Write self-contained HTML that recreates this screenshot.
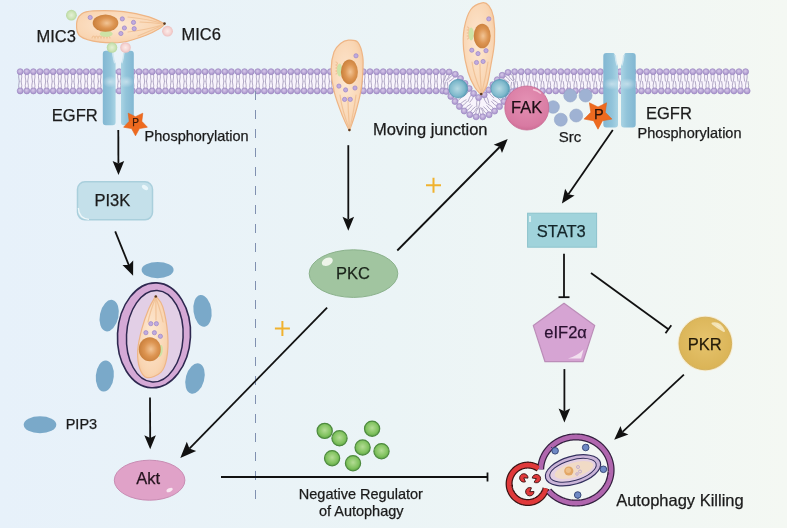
<!DOCTYPE html><html><head><meta charset="utf-8"><style>html,body{margin:0;padding:0;overflow:hidden;background:#e9f3f7}svg{display:block;will-change:transform}text{font-family:"Liberation Sans",sans-serif}</style></head><body><svg width="787" height="528" viewBox="0 0 787 528" font-family="Liberation Sans, sans-serif">
<defs>
<linearGradient id="bg" x1="0" y1="0" x2="1" y2="0">
 <stop offset="0" stop-color="#e7f1fa"/><stop offset="0.5" stop-color="#ebf4f6"/><stop offset="1" stop-color="#f4f8f3"/>
</linearGradient>
<radialGradient id="nuc" cx="0.55" cy="0.5" r="0.6">
 <stop offset="0" stop-color="#f2c596"/><stop offset="0.5" stop-color="#dd9552"/><stop offset="1" stop-color="#c47a36"/>
</radialGradient>
<radialGradient id="body" cx="0.45" cy="0.45" r="0.7">
 <stop offset="0" stop-color="#fde8d3"/><stop offset="0.7" stop-color="#f9d5b2"/><stop offset="1" stop-color="#f3c193"/>
</radialGradient>
<radialGradient id="egfr" cx="0.5" cy="0.5" r="0.6">
 <stop offset="0" stop-color="#a9cde0"/><stop offset="1" stop-color="#7fb1cc"/>
</radialGradient>
<linearGradient id="egfrh" x1="0" y1="0" x2="1" y2="0">
 <stop offset="0" stop-color="#82b7d2"/><stop offset="0.6" stop-color="#92c4da"/><stop offset="1" stop-color="#aad4e4"/>
</linearGradient>
<linearGradient id="egfrh2" x1="1" y1="0" x2="0" y2="0">
 <stop offset="0" stop-color="#82b7d2"/><stop offset="0.6" stop-color="#92c4da"/><stop offset="1" stop-color="#aad4e4"/>
</linearGradient>
<radialGradient id="pinch" cx="0.5" cy="0.5" r="0.5">
 <stop offset="0" stop-color="#ffffff" stop-opacity="0.45"/><stop offset="1" stop-color="#ffffff" stop-opacity="0"/>
</radialGradient>
<radialGradient id="teal" cx="0.45" cy="0.5" r="0.6">
 <stop offset="0" stop-color="#b6d9e3"/><stop offset="0.65" stop-color="#7fb9cc"/><stop offset="1" stop-color="#4a93ae"/>
</radialGradient>
<radialGradient id="fak" cx="0.5" cy="0.35" r="0.7">
 <stop offset="0" stop-color="#e491b4"/><stop offset="0.8" stop-color="#d87aa2"/><stop offset="1" stop-color="#c9668f"/>
</radialGradient>
<radialGradient id="gball" cx="0.5" cy="0.45" r="0.55">
 <stop offset="0" stop-color="#b4dc95"/><stop offset="0.7" stop-color="#80c25e"/><stop offset="1" stop-color="#5ea446"/>
</radialGradient>
<radialGradient id="pkr" cx="0.5" cy="0.45" r="0.6">
 <stop offset="0" stop-color="#e6c46e"/><stop offset="1" stop-color="#d9b254"/>
</radialGradient>
<radialGradient id="mic3" cx="0.5" cy="0.5" r="0.5">
 <stop offset="0" stop-color="#e4f1d6"/><stop offset="0.6" stop-color="#cfe5b9"/><stop offset="1" stop-color="#b8d9a0"/>
</radialGradient>
<radialGradient id="mic6" cx="0.5" cy="0.5" r="0.5">
 <stop offset="0" stop-color="#fcecea"/><stop offset="0.6" stop-color="#f6d6d4"/><stop offset="1" stop-color="#edc0bf"/>
</radialGradient>
<radialGradient id="head" cx="0.45" cy="0.4" r="0.6">
 <stop offset="0" stop-color="#d6cae8"/><stop offset="0.55" stop-color="#bca9d8"/><stop offset="1" stop-color="#a690cb"/>
</radialGradient>
</defs><rect x="0" y="0" width="787" height="528" fill="url(#bg)"/><polygon points="20.2,73.8 21.2,73.8 22.2,73.8 23.2,73.8 24.2,73.8 25.2,73.8 26.2,73.8 27.2,73.8 28.2,73.8 29.2,73.8 30.2,73.8 31.2,73.8 32.2,73.8 33.2,73.8 34.2,73.8 35.2,73.8 36.2,73.8 37.2,73.8 38.2,73.8 39.2,73.8 40.2,73.8 41.2,73.8 42.2,73.8 43.2,73.8 44.2,73.8 45.2,73.8 46.2,73.8 47.2,73.8 48.2,73.8 49.2,73.8 50.2,73.8 51.2,73.8 52.2,73.8 53.2,73.8 54.2,73.8 55.2,73.8 56.2,73.8 57.2,73.8 58.2,73.8 59.2,73.8 60.2,73.8 61.2,73.8 62.2,73.8 63.2,73.8 64.2,73.8 65.2,73.8 66.2,73.8 67.2,73.8 68.2,73.8 69.2,73.8 70.2,73.8 71.2,73.8 72.2,73.8 73.2,73.8 74.2,73.8 75.2,73.8 76.2,73.8 77.2,73.8 78.2,73.8 79.2,73.8 80.2,73.8 81.2,73.8 82.2,73.8 83.2,73.8 84.2,73.8 85.2,73.8 86.2,73.8 87.2,73.8 88.2,73.8 89.2,73.8 90.2,73.8 91.2,73.8 92.2,73.8 93.2,73.8 94.2,73.8 95.2,73.8 96.2,73.8 97.2,73.8 98.2,73.8 99.2,73.8 100.2,73.8 101.2,73.8 102.2,73.8 103.2,73.8 104.2,73.8 105.2,73.8 106.2,73.8 107.2,73.8 108.2,73.8 109.2,73.8 110.2,73.8 111.2,73.8 112.2,73.8 113.2,73.8 114.2,73.8 115.2,73.8 116.2,73.8 117.2,73.8 118.2,73.8 119.2,73.8 120.2,73.8 121.2,73.8 122.2,73.8 123.2,73.8 124.2,73.8 125.2,73.8 126.2,73.8 127.2,73.8 128.2,73.8 129.2,73.8 130.2,73.8 131.2,73.8 132.2,73.8 133.2,73.8 134.2,73.8 135.2,73.8 136.2,73.8 137.2,73.8 138.2,73.8 139.2,73.8 140.2,73.8 141.2,73.8 142.2,73.8 143.2,73.8 144.2,73.8 145.2,73.8 146.2,73.8 147.2,73.8 148.2,73.8 149.2,73.8 150.2,73.8 151.2,73.8 152.2,73.8 153.2,73.8 154.2,73.8 155.2,73.8 156.2,73.8 157.2,73.8 158.2,73.8 159.2,73.8 160.2,73.8 161.2,73.8 162.2,73.8 163.2,73.8 164.2,73.8 165.2,73.8 166.2,73.8 167.2,73.8 168.2,73.8 169.2,73.8 170.2,73.8 171.2,73.8 172.2,73.8 173.2,73.8 174.2,73.8 175.2,73.8 176.2,73.8 177.2,73.8 178.2,73.8 179.2,73.8 180.2,73.8 181.2,73.8 182.2,73.8 183.2,73.8 184.2,73.8 185.2,73.8 186.2,73.8 187.2,73.8 188.2,73.8 189.2,73.8 190.2,73.8 191.2,73.8 192.2,73.8 193.2,73.8 194.2,73.8 195.2,73.8 196.2,73.8 197.2,73.8 198.2,73.8 199.2,73.8 200.2,73.8 201.2,73.8 202.2,73.8 203.2,73.8 204.2,73.8 205.2,73.8 206.2,73.8 207.2,73.8 208.2,73.8 209.2,73.8 210.2,73.8 211.2,73.8 212.2,73.8 213.2,73.8 214.2,73.8 215.2,73.8 216.2,73.8 217.2,73.8 218.2,73.8 219.2,73.8 220.2,73.8 221.2,73.8 222.2,73.8 223.2,73.8 224.2,73.8 225.2,73.8 226.2,73.8 227.2,73.8 228.2,73.8 229.2,73.8 230.2,73.8 231.2,73.8 232.2,73.8 233.2,73.8 234.2,73.8 235.2,73.8 236.2,73.8 237.2,73.8 238.2,73.8 239.2,73.8 240.2,73.8 241.2,73.8 242.2,73.8 243.2,73.8 244.2,73.8 245.2,73.8 246.2,73.8 247.2,73.8 248.2,73.8 249.2,73.8 250.2,73.8 251.2,73.8 252.2,73.8 253.2,73.8 254.2,73.8 255.2,73.8 256.2,73.8 257.2,73.8 258.2,73.8 259.2,73.8 260.2,73.8 261.2,73.8 262.2,73.8 263.2,73.8 264.2,73.8 265.2,73.8 266.2,73.8 267.2,73.8 268.2,73.8 269.2,73.8 270.2,73.8 271.2,73.8 272.2,73.8 273.2,73.8 274.2,73.8 275.2,73.8 276.2,73.8 277.2,73.8 278.2,73.8 279.2,73.8 280.2,73.8 281.2,73.8 282.2,73.8 283.2,73.8 284.2,73.8 285.2,73.8 286.2,73.8 287.2,73.8 288.2,73.8 289.2,73.8 290.2,73.8 291.2,73.8 292.2,73.8 293.2,73.8 294.2,73.8 295.2,73.8 296.2,73.8 297.2,73.8 298.2,73.8 299.2,73.8 300.2,73.8 301.2,73.8 302.2,73.8 303.2,73.8 304.2,73.8 305.2,73.8 306.2,73.8 307.2,73.8 308.2,73.8 309.2,73.8 310.2,73.8 311.2,73.8 312.2,73.8 313.2,73.8 314.2,73.8 315.2,73.8 316.2,73.8 317.2,73.8 318.2,73.8 319.2,73.8 320.2,73.8 321.2,73.8 322.2,73.8 323.2,73.8 324.2,73.8 325.2,73.8 326.2,73.8 327.2,73.8 328.2,73.8 329.2,73.8 330.2,73.8 331.2,73.8 332.2,73.8 333.2,73.8 334.2,73.8 335.2,73.8 336.2,73.8 337.2,73.8 338.2,73.8 339.2,73.8 340.2,73.8 341.2,73.8 342.2,73.8 343.2,73.8 344.2,73.8 345.2,73.8 346.2,73.8 347.2,73.8 348.2,73.8 349.2,73.8 350.2,73.8 351.2,73.8 352.2,73.8 353.2,73.8 354.2,73.8 355.2,73.8 356.2,73.8 357.2,73.8 358.2,73.8 359.2,73.8 360.2,73.8 361.2,73.8 362.2,73.8 363.2,73.8 364.2,73.8 365.2,73.8 366.2,73.8 367.2,73.8 368.2,73.8 369.2,73.8 370.2,73.8 371.2,73.8 372.2,73.8 373.2,73.8 374.2,73.8 375.2,73.8 376.2,73.8 377.2,73.8 378.2,73.8 379.2,73.8 380.2,73.8 381.2,73.8 382.2,73.8 383.2,73.8 384.2,73.8 385.2,73.8 386.2,73.8 387.2,73.8 388.2,73.8 389.2,73.8 390.2,73.8 391.2,73.8 392.2,73.8 393.2,73.8 394.2,73.8 395.2,73.8 396.2,73.8 397.2,73.8 398.2,73.8 399.2,73.8 400.2,73.8 401.2,73.8 402.2,73.8 403.2,73.8 404.2,73.8 405.2,73.8 406.2,73.8 407.2,73.8 408.2,73.8 409.2,73.8 410.2,73.8 411.2,73.8 412.2,73.8 413.2,73.8 414.2,73.8 415.2,73.8 416.2,73.8 417.2,73.8 418.2,73.8 419.2,73.8 420.2,73.8 421.2,73.8 422.2,73.8 423.2,73.8 424.2,73.8 425.2,73.8 426.2,73.8 427.2,73.8 428.2,73.8 429.2,73.8 430.2,73.8 431.2,73.8 432.2,73.8 433.2,73.8 434.2,73.8 435.2,73.8 436.2,73.8 437.2,73.8 438.2,73.8 439.2,73.8 440.2,73.8 441.2,73.8 442.2,73.8 443.2,73.8 444.2,73.8 445.2,73.8 446.2,73.8 448.2,73.9 450.4,74.4 452.3,75.1 454.0,76.0 455.6,77.0 457.0,78.1 458.3,79.3 459.5,80.5 460.7,81.7 461.8,82.9 462.9,84.2 464.0,85.4 465.0,86.7 466.0,87.9 467.0,89.1 468.0,90.3 468.9,91.4 469.9,92.5 470.8,93.6 471.7,94.6 472.6,95.5 473.4,96.3 474.2,97.1 475.0,97.7 475.7,98.3 476.4,98.8 477.0,99.1 477.5,99.4 478.0,99.7 478.4,99.8 478.8,99.9 479.1,100.0 479.4,100.0 479.7,100.0 480.0,100.0 480.3,99.9 480.7,99.8 481.2,99.6 481.7,99.3 482.3,99.0 482.9,98.6 483.6,98.1 484.3,97.5 485.1,96.8 485.9,96.0 486.8,95.1 487.7,94.2 488.6,93.2 489.5,92.1 490.4,91.0 491.4,89.8 492.4,88.6 493.4,87.4 494.4,86.2 495.5,84.9 496.5,83.7 497.6,82.4 498.8,81.2 500.0,80.0 501.2,78.8 502.6,77.7 504.0,76.6 505.6,75.7 507.4,74.8 509.5,74.2 511.8,73.8 513.2,73.8 514.2,73.8 515.2,73.8 516.2,73.8 517.2,73.8 518.2,73.8 519.2,73.8 520.2,73.8 521.2,73.8 522.2,73.8 523.2,73.8 524.2,73.8 525.2,73.8 526.2,73.8 527.2,73.8 528.2,73.8 529.2,73.8 530.2,73.8 531.2,73.8 532.2,73.8 533.2,73.8 534.2,73.8 535.2,73.8 536.2,73.8 537.2,73.8 538.2,73.8 539.2,73.8 540.2,73.8 541.2,73.8 542.2,73.8 543.2,73.8 544.2,73.8 545.2,73.8 546.2,73.8 547.2,73.8 548.2,73.8 549.2,73.8 550.2,73.8 551.2,73.8 552.2,73.8 553.2,73.8 554.2,73.8 555.2,73.8 556.2,73.8 557.2,73.8 558.2,73.8 559.2,73.8 560.2,73.8 561.2,73.8 562.2,73.8 563.2,73.8 564.2,73.8 565.2,73.8 566.2,73.8 567.2,73.8 568.2,73.8 569.2,73.8 570.2,73.8 571.2,73.8 572.2,73.8 573.2,73.8 574.2,73.8 575.2,73.8 576.2,73.8 577.2,73.8 578.2,73.8 579.2,73.8 580.2,73.8 581.2,73.8 582.2,73.8 583.2,73.8 584.2,73.8 585.2,73.8 586.2,73.8 587.2,73.8 588.2,73.8 589.2,73.8 590.2,73.8 591.2,73.8 592.2,73.8 593.2,73.8 594.2,73.8 595.2,73.8 596.2,73.8 597.2,73.8 598.2,73.8 599.2,73.8 600.2,73.8 601.2,73.8 602.2,73.8 603.2,73.8 604.2,73.8 605.2,73.8 606.2,73.8 607.2,73.8 608.2,73.8 609.2,73.8 610.2,73.8 611.2,73.8 612.2,73.8 613.2,73.8 614.2,73.8 615.2,73.8 616.2,73.8 617.2,73.8 618.2,73.8 619.2,73.8 620.2,73.8 621.2,73.8 622.2,73.8 623.2,73.8 624.2,73.8 625.2,73.8 626.2,73.8 627.2,73.8 628.2,73.8 629.2,73.8 630.2,73.8 631.2,73.8 632.2,73.8 633.2,73.8 634.2,73.8 635.2,73.8 636.2,73.8 637.2,73.8 638.2,73.8 639.2,73.8 640.2,73.8 641.2,73.8 642.2,73.8 643.2,73.8 644.2,73.8 645.2,73.8 646.2,73.8 647.2,73.8 648.2,73.8 649.2,73.8 650.2,73.8 651.2,73.8 652.2,73.8 653.2,73.8 654.2,73.8 655.2,73.8 656.2,73.8 657.2,73.8 658.2,73.8 659.2,73.8 660.2,73.8 661.2,73.8 662.2,73.8 663.2,73.8 664.2,73.8 665.2,73.8 666.2,73.8 667.2,73.8 668.2,73.8 669.2,73.8 670.2,73.8 671.2,73.8 672.2,73.8 673.2,73.8 674.2,73.8 675.2,73.8 676.2,73.8 677.2,73.8 678.2,73.8 679.2,73.8 680.2,73.8 681.2,73.8 682.2,73.8 683.2,73.8 684.2,73.8 685.2,73.8 686.2,73.8 687.2,73.8 688.2,73.8 689.2,73.8 690.2,73.8 691.2,73.8 692.2,73.8 693.2,73.8 694.2,73.8 695.2,73.8 696.2,73.8 697.2,73.8 698.2,73.8 699.2,73.8 700.2,73.8 701.2,73.8 702.2,73.8 703.2,73.8 704.2,73.8 705.2,73.8 706.2,73.8 707.2,73.8 708.2,73.8 709.2,73.8 710.2,73.8 711.2,73.8 712.2,73.8 713.2,73.8 714.2,73.8 715.2,73.8 716.2,73.8 717.2,73.8 718.2,73.8 719.2,73.8 720.2,73.8 721.2,73.8 722.2,73.8 723.2,73.8 724.2,73.8 725.2,73.8 726.2,73.8 727.2,73.8 728.2,73.8 729.2,73.8 730.2,73.8 731.2,73.8 732.2,73.8 733.2,73.8 734.2,73.8 735.2,73.8 736.2,73.8 737.2,73.8 738.2,73.8 739.2,73.8 740.2,73.8 741.2,73.8 742.2,73.8 743.2,73.8 744.2,73.8 745.2,73.8 746.2,73.8 747.2,73.8 747.2,88.8 746.2,88.8 745.2,88.8 744.2,88.8 743.2,88.8 742.2,88.8 741.2,88.8 740.2,88.8 739.2,88.8 738.2,88.8 737.2,88.8 736.2,88.8 735.2,88.8 734.2,88.8 733.2,88.8 732.2,88.8 731.2,88.8 730.2,88.8 729.2,88.8 728.2,88.8 727.2,88.8 726.2,88.8 725.2,88.8 724.2,88.8 723.2,88.8 722.2,88.8 721.2,88.8 720.2,88.8 719.2,88.8 718.2,88.8 717.2,88.8 716.2,88.8 715.2,88.8 714.2,88.8 713.2,88.8 712.2,88.8 711.2,88.8 710.2,88.8 709.2,88.8 708.2,88.8 707.2,88.8 706.2,88.8 705.2,88.8 704.2,88.8 703.2,88.8 702.2,88.8 701.2,88.8 700.2,88.8 699.2,88.8 698.2,88.8 697.2,88.8 696.2,88.8 695.2,88.8 694.2,88.8 693.2,88.8 692.2,88.8 691.2,88.8 690.2,88.8 689.2,88.8 688.2,88.8 687.2,88.8 686.2,88.8 685.2,88.8 684.2,88.8 683.2,88.8 682.2,88.8 681.2,88.8 680.2,88.8 679.2,88.8 678.2,88.8 677.2,88.8 676.2,88.8 675.2,88.8 674.2,88.8 673.2,88.8 672.2,88.8 671.2,88.8 670.2,88.8 669.2,88.8 668.2,88.8 667.2,88.8 666.2,88.8 665.2,88.8 664.2,88.8 663.2,88.8 662.2,88.8 661.2,88.8 660.2,88.8 659.2,88.8 658.2,88.8 657.2,88.8 656.2,88.8 655.2,88.8 654.2,88.8 653.2,88.8 652.2,88.8 651.2,88.8 650.2,88.8 649.2,88.8 648.2,88.8 647.2,88.8 646.2,88.8 645.2,88.8 644.2,88.8 643.2,88.8 642.2,88.8 641.2,88.8 640.2,88.8 639.2,88.8 638.2,88.8 637.2,88.8 636.2,88.8 635.2,88.8 634.2,88.8 633.2,88.8 632.2,88.8 631.2,88.8 630.2,88.8 629.2,88.8 628.2,88.8 627.2,88.8 626.2,88.8 625.2,88.8 624.2,88.8 623.2,88.8 622.2,88.8 621.2,88.8 620.2,88.8 619.2,88.8 618.2,88.8 617.2,88.8 616.2,88.8 615.2,88.8 614.2,88.8 613.2,88.8 612.2,88.8 611.2,88.8 610.2,88.8 609.2,88.8 608.2,88.8 607.2,88.8 606.2,88.8 605.2,88.8 604.2,88.8 603.2,88.8 602.2,88.8 601.2,88.8 600.2,88.8 599.2,88.8 598.2,88.8 597.2,88.8 596.2,88.8 595.2,88.8 594.2,88.8 593.2,88.8 592.2,88.8 591.2,88.8 590.2,88.8 589.2,88.8 588.2,88.8 587.2,88.8 586.2,88.8 585.2,88.8 584.2,88.8 583.2,88.8 582.2,88.8 581.2,88.8 580.2,88.8 579.2,88.8 578.2,88.8 577.2,88.8 576.2,88.8 575.2,88.8 574.2,88.8 573.2,88.8 572.2,88.8 571.2,88.8 570.2,88.8 569.2,88.8 568.2,88.8 567.2,88.8 566.2,88.8 565.2,88.8 564.2,88.8 563.2,88.8 562.2,88.8 561.2,88.8 560.2,88.8 559.2,88.8 558.2,88.8 557.2,88.8 556.2,88.8 555.2,88.8 554.2,88.8 553.2,88.8 552.2,88.8 551.2,88.8 550.2,88.8 549.2,88.8 548.2,88.8 547.2,88.8 546.2,88.8 545.2,88.8 544.2,88.8 543.2,88.8 542.2,88.8 541.2,88.8 540.2,88.8 539.2,88.8 538.2,88.8 537.2,88.8 536.2,88.8 535.2,88.8 534.2,88.8 533.2,88.8 532.2,88.8 531.2,88.8 530.2,88.8 529.2,88.8 528.2,88.8 527.2,88.8 526.2,88.8 525.2,88.8 524.2,88.8 523.2,88.8 522.2,88.8 521.2,88.8 520.2,88.8 519.2,88.8 518.2,88.8 517.2,88.8 516.2,88.8 515.2,88.8 514.2,88.8 513.2,88.8 512.6,88.8 512.9,88.8 513.0,88.7 512.8,88.8 512.4,89.1 511.8,89.5 511.2,90.0 510.4,90.7 509.6,91.6 508.8,92.5 507.9,93.5 506.9,94.6 506.0,95.7 505.0,96.9 504.0,98.1 503.0,99.4 502.0,100.6 500.9,101.9 499.8,103.1 498.7,104.3 497.6,105.5 496.5,106.7 495.3,107.8 494.1,108.9 492.8,109.9 491.5,110.9 490.1,111.8 488.7,112.6 487.2,113.3 485.7,113.9 484.1,114.4 482.4,114.8 480.7,115.0 479.0,115.0 477.3,114.9 475.6,114.6 474.0,114.1 472.4,113.6 470.9,112.9 469.4,112.1 468.0,111.2 466.7,110.3 465.4,109.3 464.2,108.2 463.0,107.1 461.8,106.0 460.7,104.8 459.6,103.6 458.5,102.4 457.5,101.1 456.4,99.9 455.4,98.6 454.4,97.4 453.4,96.2 452.4,95.0 451.5,93.9 450.6,92.9 449.7,91.9 448.9,91.0 448.1,90.3 447.4,89.7 446.8,89.2 446.4,88.9 446.1,88.8 446.0,88.7 446.2,88.8 446.2,88.8 445.2,88.8 444.2,88.8 443.2,88.8 442.2,88.8 441.2,88.8 440.2,88.8 439.2,88.8 438.2,88.8 437.2,88.8 436.2,88.8 435.2,88.8 434.2,88.8 433.2,88.8 432.2,88.8 431.2,88.8 430.2,88.8 429.2,88.8 428.2,88.8 427.2,88.8 426.2,88.8 425.2,88.8 424.2,88.8 423.2,88.8 422.2,88.8 421.2,88.8 420.2,88.8 419.2,88.8 418.2,88.8 417.2,88.8 416.2,88.8 415.2,88.8 414.2,88.8 413.2,88.8 412.2,88.8 411.2,88.8 410.2,88.8 409.2,88.8 408.2,88.8 407.2,88.8 406.2,88.8 405.2,88.8 404.2,88.8 403.2,88.8 402.2,88.8 401.2,88.8 400.2,88.8 399.2,88.8 398.2,88.8 397.2,88.8 396.2,88.8 395.2,88.8 394.2,88.8 393.2,88.8 392.2,88.8 391.2,88.8 390.2,88.8 389.2,88.8 388.2,88.8 387.2,88.8 386.2,88.8 385.2,88.8 384.2,88.8 383.2,88.8 382.2,88.8 381.2,88.8 380.2,88.8 379.2,88.8 378.2,88.8 377.2,88.8 376.2,88.8 375.2,88.8 374.2,88.8 373.2,88.8 372.2,88.8 371.2,88.8 370.2,88.8 369.2,88.8 368.2,88.8 367.2,88.8 366.2,88.8 365.2,88.8 364.2,88.8 363.2,88.8 362.2,88.8 361.2,88.8 360.2,88.8 359.2,88.8 358.2,88.8 357.2,88.8 356.2,88.8 355.2,88.8 354.2,88.8 353.2,88.8 352.2,88.8 351.2,88.8 350.2,88.8 349.2,88.8 348.2,88.8 347.2,88.8 346.2,88.8 345.2,88.8 344.2,88.8 343.2,88.8 342.2,88.8 341.2,88.8 340.2,88.8 339.2,88.8 338.2,88.8 337.2,88.8 336.2,88.8 335.2,88.8 334.2,88.8 333.2,88.8 332.2,88.8 331.2,88.8 330.2,88.8 329.2,88.8 328.2,88.8 327.2,88.8 326.2,88.8 325.2,88.8 324.2,88.8 323.2,88.8 322.2,88.8 321.2,88.8 320.2,88.8 319.2,88.8 318.2,88.8 317.2,88.8 316.2,88.8 315.2,88.8 314.2,88.8 313.2,88.8 312.2,88.8 311.2,88.8 310.2,88.8 309.2,88.8 308.2,88.8 307.2,88.8 306.2,88.8 305.2,88.8 304.2,88.8 303.2,88.8 302.2,88.8 301.2,88.8 300.2,88.8 299.2,88.8 298.2,88.8 297.2,88.8 296.2,88.8 295.2,88.8 294.2,88.8 293.2,88.8 292.2,88.8 291.2,88.8 290.2,88.8 289.2,88.8 288.2,88.8 287.2,88.8 286.2,88.8 285.2,88.8 284.2,88.8 283.2,88.8 282.2,88.8 281.2,88.8 280.2,88.8 279.2,88.8 278.2,88.8 277.2,88.8 276.2,88.8 275.2,88.8 274.2,88.8 273.2,88.8 272.2,88.8 271.2,88.8 270.2,88.8 269.2,88.8 268.2,88.8 267.2,88.8 266.2,88.8 265.2,88.8 264.2,88.8 263.2,88.8 262.2,88.8 261.2,88.8 260.2,88.8 259.2,88.8 258.2,88.8 257.2,88.8 256.2,88.8 255.2,88.8 254.2,88.8 253.2,88.8 252.2,88.8 251.2,88.8 250.2,88.8 249.2,88.8 248.2,88.8 247.2,88.8 246.2,88.8 245.2,88.8 244.2,88.8 243.2,88.8 242.2,88.8 241.2,88.8 240.2,88.8 239.2,88.8 238.2,88.8 237.2,88.8 236.2,88.8 235.2,88.8 234.2,88.8 233.2,88.8 232.2,88.8 231.2,88.8 230.2,88.8 229.2,88.8 228.2,88.8 227.2,88.8 226.2,88.8 225.2,88.8 224.2,88.8 223.2,88.8 222.2,88.8 221.2,88.8 220.2,88.8 219.2,88.8 218.2,88.8 217.2,88.8 216.2,88.8 215.2,88.8 214.2,88.8 213.2,88.8 212.2,88.8 211.2,88.8 210.2,88.8 209.2,88.8 208.2,88.8 207.2,88.8 206.2,88.8 205.2,88.8 204.2,88.8 203.2,88.8 202.2,88.8 201.2,88.8 200.2,88.8 199.2,88.8 198.2,88.8 197.2,88.8 196.2,88.8 195.2,88.8 194.2,88.8 193.2,88.8 192.2,88.8 191.2,88.8 190.2,88.8 189.2,88.8 188.2,88.8 187.2,88.8 186.2,88.8 185.2,88.8 184.2,88.8 183.2,88.8 182.2,88.8 181.2,88.8 180.2,88.8 179.2,88.8 178.2,88.8 177.2,88.8 176.2,88.8 175.2,88.8 174.2,88.8 173.2,88.8 172.2,88.8 171.2,88.8 170.2,88.8 169.2,88.8 168.2,88.8 167.2,88.8 166.2,88.8 165.2,88.8 164.2,88.8 163.2,88.8 162.2,88.8 161.2,88.8 160.2,88.8 159.2,88.8 158.2,88.8 157.2,88.8 156.2,88.8 155.2,88.8 154.2,88.8 153.2,88.8 152.2,88.8 151.2,88.8 150.2,88.8 149.2,88.8 148.2,88.8 147.2,88.8 146.2,88.8 145.2,88.8 144.2,88.8 143.2,88.8 142.2,88.8 141.2,88.8 140.2,88.8 139.2,88.8 138.2,88.8 137.2,88.8 136.2,88.8 135.2,88.8 134.2,88.8 133.2,88.8 132.2,88.8 131.2,88.8 130.2,88.8 129.2,88.8 128.2,88.8 127.2,88.8 126.2,88.8 125.2,88.8 124.2,88.8 123.2,88.8 122.2,88.8 121.2,88.8 120.2,88.8 119.2,88.8 118.2,88.8 117.2,88.8 116.2,88.8 115.2,88.8 114.2,88.8 113.2,88.8 112.2,88.8 111.2,88.8 110.2,88.8 109.2,88.8 108.2,88.8 107.2,88.8 106.2,88.8 105.2,88.8 104.2,88.8 103.2,88.8 102.2,88.8 101.2,88.8 100.2,88.8 99.2,88.8 98.2,88.8 97.2,88.8 96.2,88.8 95.2,88.8 94.2,88.8 93.2,88.8 92.2,88.8 91.2,88.8 90.2,88.8 89.2,88.8 88.2,88.8 87.2,88.8 86.2,88.8 85.2,88.8 84.2,88.8 83.2,88.8 82.2,88.8 81.2,88.8 80.2,88.8 79.2,88.8 78.2,88.8 77.2,88.8 76.2,88.8 75.2,88.8 74.2,88.8 73.2,88.8 72.2,88.8 71.2,88.8 70.2,88.8 69.2,88.8 68.2,88.8 67.2,88.8 66.2,88.8 65.2,88.8 64.2,88.8 63.2,88.8 62.2,88.8 61.2,88.8 60.2,88.8 59.2,88.8 58.2,88.8 57.2,88.8 56.2,88.8 55.2,88.8 54.2,88.8 53.2,88.8 52.2,88.8 51.2,88.8 50.2,88.8 49.2,88.8 48.2,88.8 47.2,88.8 46.2,88.8 45.2,88.8 44.2,88.8 43.2,88.8 42.2,88.8 41.2,88.8 40.2,88.8 39.2,88.8 38.2,88.8 37.2,88.8 36.2,88.8 35.2,88.8 34.2,88.8 33.2,88.8 32.2,88.8 31.2,88.8 30.2,88.8 29.2,88.8 28.2,88.8 27.2,88.8 26.2,88.8 25.2,88.8 24.2,88.8 23.2,88.8 22.2,88.8 21.2,88.8 20.2,88.8" fill="#f8f4fc"/><path d="M21.2,71.7Q22.4,77.2 21.1,81.5M19.2,71.7Q18.0,77.2 19.3,81.5M27.8,71.7Q29.0,77.2 27.7,81.5M25.8,71.7Q24.6,77.2 25.9,81.5M34.4,71.7Q35.6,77.2 34.3,81.5M32.4,71.7Q31.2,77.2 32.5,81.5M41.0,71.7Q42.2,77.2 40.9,81.5M39.0,71.7Q37.8,77.2 39.1,81.5M47.6,71.7Q48.8,77.2 47.5,81.5M45.6,71.7Q44.4,77.2 45.7,81.5M54.2,71.7Q55.4,77.2 54.1,81.5M52.2,71.7Q51.0,77.2 52.3,81.5M60.8,71.7Q62.0,77.2 60.7,81.5M58.8,71.7Q57.6,77.2 58.9,81.5M67.4,71.7Q68.6,77.2 67.3,81.5M65.4,71.7Q64.2,77.2 65.5,81.5M74.0,71.7Q75.2,77.2 73.9,81.5M72.0,71.7Q70.8,77.2 72.1,81.5M80.6,71.7Q81.8,77.2 80.5,81.5M78.6,71.7Q77.4,77.2 78.7,81.5M87.2,71.7Q88.4,77.2 87.1,81.5M85.2,71.7Q84.0,77.2 85.3,81.5M93.8,71.7Q95.0,77.2 93.7,81.5M91.8,71.7Q90.6,77.2 91.9,81.5M100.4,71.7Q101.6,77.2 100.3,81.5M98.4,71.7Q97.2,77.2 98.5,81.5M107.0,71.7Q108.2,77.2 106.9,81.5M105.0,71.7Q103.8,77.2 105.1,81.5M113.6,71.7Q114.8,77.2 113.5,81.5M111.6,71.7Q110.4,77.2 111.7,81.5M120.2,71.7Q121.4,77.2 120.1,81.5M118.2,71.7Q117.0,77.2 118.3,81.5M126.8,71.7Q128.0,77.2 126.7,81.5M124.8,71.7Q123.6,77.2 124.9,81.5M133.4,71.7Q134.6,77.2 133.3,81.5M131.4,71.7Q130.2,77.2 131.5,81.5M140.0,71.7Q141.2,77.2 139.9,81.5M138.0,71.7Q136.8,77.2 138.1,81.5M146.6,71.7Q147.8,77.2 146.5,81.5M144.6,71.7Q143.4,77.2 144.7,81.5M153.2,71.7Q154.4,77.2 153.1,81.5M151.2,71.7Q150.0,77.2 151.3,81.5M159.8,71.7Q161.0,77.2 159.7,81.5M157.8,71.7Q156.6,77.2 157.9,81.5M166.4,71.7Q167.6,77.2 166.3,81.5M164.4,71.7Q163.2,77.2 164.5,81.5M173.0,71.7Q174.2,77.2 172.9,81.5M171.0,71.7Q169.8,77.2 171.1,81.5M179.6,71.7Q180.8,77.2 179.5,81.5M177.6,71.7Q176.4,77.2 177.7,81.5M186.2,71.7Q187.4,77.2 186.1,81.5M184.2,71.7Q183.0,77.2 184.3,81.5M192.8,71.7Q194.0,77.2 192.7,81.5M190.8,71.7Q189.6,77.2 190.9,81.5M199.4,71.7Q200.6,77.2 199.3,81.5M197.4,71.7Q196.2,77.2 197.5,81.5M206.0,71.7Q207.2,77.2 205.9,81.5M204.0,71.7Q202.8,77.2 204.1,81.5M212.6,71.7Q213.8,77.2 212.5,81.5M210.6,71.7Q209.4,77.2 210.7,81.5M219.2,71.7Q220.4,77.2 219.1,81.5M217.2,71.7Q216.0,77.2 217.3,81.5M225.8,71.7Q227.0,77.2 225.7,81.5M223.8,71.7Q222.6,77.2 223.9,81.5M232.4,71.7Q233.6,77.2 232.3,81.5M230.4,71.7Q229.2,77.2 230.5,81.5M239.0,71.7Q240.2,77.2 238.9,81.5M237.0,71.7Q235.8,77.2 237.1,81.5M245.6,71.7Q246.8,77.2 245.5,81.5M243.6,71.7Q242.4,77.2 243.7,81.5M252.2,71.7Q253.4,77.2 252.1,81.5M250.2,71.7Q249.0,77.2 250.3,81.5M258.8,71.7Q260.0,77.2 258.7,81.5M256.8,71.7Q255.6,77.2 256.9,81.5M265.4,71.7Q266.6,77.2 265.3,81.5M263.4,71.7Q262.2,77.2 263.5,81.5M272.0,71.7Q273.2,77.2 271.9,81.5M270.0,71.7Q268.8,77.2 270.1,81.5M278.6,71.7Q279.8,77.2 278.5,81.5M276.6,71.7Q275.4,77.2 276.7,81.5M285.2,71.7Q286.4,77.2 285.1,81.5M283.2,71.7Q282.0,77.2 283.3,81.5M291.8,71.7Q293.0,77.2 291.7,81.5M289.8,71.7Q288.6,77.2 289.9,81.5M298.4,71.7Q299.6,77.2 298.3,81.5M296.4,71.7Q295.2,77.2 296.5,81.5M305.0,71.7Q306.2,77.2 304.9,81.5M303.0,71.7Q301.8,77.2 303.1,81.5M311.6,71.7Q312.8,77.2 311.5,81.5M309.6,71.7Q308.4,77.2 309.7,81.5M318.2,71.7Q319.4,77.2 318.1,81.5M316.2,71.7Q315.0,77.2 316.3,81.5M324.8,71.7Q326.0,77.2 324.7,81.5M322.8,71.7Q321.6,77.2 322.9,81.5M331.4,71.7Q332.6,77.2 331.3,81.5M329.4,71.7Q328.2,77.2 329.5,81.5M338.0,71.7Q339.2,77.2 337.9,81.5M336.0,71.7Q334.8,77.2 336.1,81.5M344.6,71.7Q345.8,77.2 344.5,81.5M342.6,71.7Q341.4,77.2 342.7,81.5M351.2,71.7Q352.4,77.2 351.1,81.5M349.2,71.7Q348.0,77.2 349.3,81.5M357.8,71.7Q359.0,77.2 357.7,81.5M355.8,71.7Q354.6,77.2 355.9,81.5M364.4,71.7Q365.6,77.2 364.3,81.5M362.4,71.7Q361.2,77.2 362.5,81.5M371.0,71.7Q372.2,77.2 370.9,81.5M369.0,71.7Q367.8,77.2 369.1,81.5M377.6,71.7Q378.8,77.2 377.5,81.5M375.6,71.7Q374.4,77.2 375.7,81.5M384.2,71.7Q385.4,77.2 384.1,81.5M382.2,71.7Q381.0,77.2 382.3,81.5M390.8,71.7Q392.0,77.2 390.7,81.5M388.8,71.7Q387.6,77.2 388.9,81.5M397.4,71.7Q398.6,77.2 397.3,81.5M395.4,71.7Q394.2,77.2 395.5,81.5M404.0,71.7Q405.2,77.2 403.9,81.5M402.0,71.7Q400.8,77.2 402.1,81.5M410.6,71.7Q411.8,77.2 410.5,81.5M408.6,71.7Q407.4,77.2 408.7,81.5M417.2,71.7Q418.4,77.2 417.1,81.5M415.2,71.7Q414.0,77.2 415.3,81.5M423.8,71.7Q425.0,77.2 423.7,81.5M421.8,71.7Q420.6,77.2 421.9,81.5M430.4,71.7Q431.6,77.2 430.3,81.5M428.4,71.7Q427.2,77.2 428.5,81.5M437.0,71.7Q438.2,77.2 436.9,81.5M435.0,71.7Q433.8,77.2 435.1,81.5M443.6,71.7Q444.8,77.2 443.5,81.5M441.6,71.7Q440.4,77.2 441.7,81.5M450.1,72.4Q448.9,77.9 445.9,81.2M448.3,71.5Q444.9,76.0 444.3,80.5M456.0,75.1Q452.8,79.7 448.7,81.7M454.6,73.6Q449.8,76.5 447.5,80.3M461.1,79.3Q457.6,83.7 453.5,85.4M459.9,77.7Q454.8,80.3 452.3,84.0M465.7,84.2Q462.4,88.7 458.3,90.6M464.4,82.7Q459.5,85.4 457.1,89.3M470.0,89.2Q467.2,94.1 463.3,96.4M468.5,87.8Q463.9,91.1 462.0,95.2M474.4,94.0Q472.8,99.4 469.6,102.5M472.7,93.0Q469.0,97.2 468.0,101.6M479.6,97.7Q480.3,103.3 478.7,107.5M477.6,97.6Q476.0,102.9 476.9,107.3M485.1,94.4Q488.4,98.9 488.9,103.4M483.2,95.2Q484.3,100.7 487.3,104.1M489.4,89.2Q493.8,92.7 495.5,96.9M487.9,90.5Q490.4,95.5 494.1,98.0M493.6,84.0Q498.4,86.8 500.7,90.7M492.2,85.4Q495.4,90.0 499.5,92.0M497.9,79.0Q502.9,81.5 505.4,85.3M496.6,80.5Q500.1,84.9 504.3,86.7M502.8,74.6Q507.8,77.3 510.2,81.1M501.5,76.1Q504.9,80.6 509.0,82.5M508.8,71.8Q513.0,75.6 514.4,79.9M507.2,72.9Q509.4,78.1 512.9,80.9M515.6,71.7Q516.8,77.2 515.5,81.5M513.6,71.7Q512.4,77.2 513.7,81.5M522.2,71.7Q523.4,77.2 522.1,81.5M520.2,71.7Q519.0,77.2 520.3,81.5M528.8,71.7Q530.0,77.2 528.7,81.5M526.8,71.7Q525.6,77.2 526.9,81.5M535.4,71.7Q536.6,77.2 535.3,81.5M533.4,71.7Q532.2,77.2 533.5,81.5M542.0,71.7Q543.2,77.2 541.9,81.5M540.0,71.7Q538.8,77.2 540.1,81.5M548.6,71.7Q549.8,77.2 548.5,81.5M546.6,71.7Q545.4,77.2 546.7,81.5M555.2,71.7Q556.4,77.2 555.1,81.5M553.2,71.7Q552.0,77.2 553.3,81.5M561.8,71.7Q563.0,77.2 561.7,81.5M559.8,71.7Q558.6,77.2 559.9,81.5M568.4,71.7Q569.6,77.2 568.3,81.5M566.4,71.7Q565.2,77.2 566.5,81.5M575.0,71.7Q576.2,77.2 574.9,81.5M573.0,71.7Q571.8,77.2 573.1,81.5M581.6,71.7Q582.8,77.2 581.5,81.5M579.6,71.7Q578.4,77.2 579.7,81.5M588.2,71.7Q589.4,77.2 588.1,81.5M586.2,71.7Q585.0,77.2 586.3,81.5M594.8,71.7Q596.0,77.2 594.7,81.5M592.8,71.7Q591.6,77.2 592.9,81.5M601.4,71.7Q602.6,77.2 601.3,81.5M599.4,71.7Q598.2,77.2 599.5,81.5M608.0,71.7Q609.2,77.2 607.9,81.5M606.0,71.7Q604.8,77.2 606.1,81.5M614.6,71.7Q615.8,77.2 614.5,81.5M612.6,71.7Q611.4,77.2 612.7,81.5M621.2,71.7Q622.4,77.2 621.1,81.5M619.2,71.7Q618.0,77.2 619.3,81.5M627.8,71.7Q629.0,77.2 627.7,81.5M625.8,71.7Q624.6,77.2 625.9,81.5M634.4,71.7Q635.6,77.2 634.3,81.5M632.4,71.7Q631.2,77.2 632.5,81.5M641.0,71.7Q642.2,77.2 640.9,81.5M639.0,71.7Q637.8,77.2 639.1,81.5M647.6,71.7Q648.8,77.2 647.5,81.5M645.6,71.7Q644.4,77.2 645.7,81.5M654.2,71.7Q655.4,77.2 654.1,81.5M652.2,71.7Q651.0,77.2 652.3,81.5M660.8,71.7Q662.0,77.2 660.7,81.5M658.8,71.7Q657.6,77.2 658.9,81.5M667.4,71.7Q668.6,77.2 667.3,81.5M665.4,71.7Q664.2,77.2 665.5,81.5M674.0,71.7Q675.2,77.2 673.9,81.5M672.0,71.7Q670.8,77.2 672.1,81.5M680.6,71.7Q681.8,77.2 680.5,81.5M678.6,71.7Q677.4,77.2 678.7,81.5M687.2,71.7Q688.4,77.2 687.1,81.5M685.2,71.7Q684.0,77.2 685.3,81.5M693.8,71.7Q695.0,77.2 693.7,81.5M691.8,71.7Q690.6,77.2 691.9,81.5M700.4,71.7Q701.6,77.2 700.3,81.5M698.4,71.7Q697.2,77.2 698.5,81.5M707.0,71.7Q708.2,77.2 706.9,81.5M705.0,71.7Q703.8,77.2 705.1,81.5M713.6,71.7Q714.8,77.2 713.5,81.5M711.6,71.7Q710.4,77.2 711.7,81.5M720.2,71.7Q721.4,77.2 720.1,81.5M718.2,71.7Q717.0,77.2 718.3,81.5M726.8,71.7Q728.0,77.2 726.7,81.5M724.8,71.7Q723.6,77.2 724.9,81.5M733.4,71.7Q734.6,77.2 733.3,81.5M731.4,71.7Q730.2,77.2 731.5,81.5M740.0,71.7Q741.2,77.2 739.9,81.5M738.0,71.7Q736.8,77.2 738.1,81.5M746.6,71.7Q747.8,77.2 746.5,81.5M744.6,71.7Q743.4,77.2 744.7,81.5M21.2,90.9Q22.4,85.4 21.1,81.1M19.2,90.9Q18.0,85.4 19.3,81.1M27.8,90.9Q29.0,85.4 27.7,81.1M25.8,90.9Q24.6,85.4 25.9,81.1M34.4,90.9Q35.6,85.4 34.3,81.1M32.4,90.9Q31.2,85.4 32.5,81.1M41.0,90.9Q42.2,85.4 40.9,81.1M39.0,90.9Q37.8,85.4 39.1,81.1M47.6,90.9Q48.8,85.4 47.5,81.1M45.6,90.9Q44.4,85.4 45.7,81.1M54.2,90.9Q55.4,85.4 54.1,81.1M52.2,90.9Q51.0,85.4 52.3,81.1M60.8,90.9Q62.0,85.4 60.7,81.1M58.8,90.9Q57.6,85.4 58.9,81.1M67.4,90.9Q68.6,85.4 67.3,81.1M65.4,90.9Q64.2,85.4 65.5,81.1M74.0,90.9Q75.2,85.4 73.9,81.1M72.0,90.9Q70.8,85.4 72.1,81.1M80.6,90.9Q81.8,85.4 80.5,81.1M78.6,90.9Q77.4,85.4 78.7,81.1M87.2,90.9Q88.4,85.4 87.1,81.1M85.2,90.9Q84.0,85.4 85.3,81.1M93.8,90.9Q95.0,85.4 93.7,81.1M91.8,90.9Q90.6,85.4 91.9,81.1M100.4,90.9Q101.6,85.4 100.3,81.1M98.4,90.9Q97.2,85.4 98.5,81.1M107.0,90.9Q108.2,85.4 106.9,81.1M105.0,90.9Q103.8,85.4 105.1,81.1M113.6,90.9Q114.8,85.4 113.5,81.1M111.6,90.9Q110.4,85.4 111.7,81.1M120.2,90.9Q121.4,85.4 120.1,81.1M118.2,90.9Q117.0,85.4 118.3,81.1M126.8,90.9Q128.0,85.4 126.7,81.1M124.8,90.9Q123.6,85.4 124.9,81.1M133.4,90.9Q134.6,85.4 133.3,81.1M131.4,90.9Q130.2,85.4 131.5,81.1M140.0,90.9Q141.2,85.4 139.9,81.1M138.0,90.9Q136.8,85.4 138.1,81.1M146.6,90.9Q147.8,85.4 146.5,81.1M144.6,90.9Q143.4,85.4 144.7,81.1M153.2,90.9Q154.4,85.4 153.1,81.1M151.2,90.9Q150.0,85.4 151.3,81.1M159.8,90.9Q161.0,85.4 159.7,81.1M157.8,90.9Q156.6,85.4 157.9,81.1M166.4,90.9Q167.6,85.4 166.3,81.1M164.4,90.9Q163.2,85.4 164.5,81.1M173.0,90.9Q174.2,85.4 172.9,81.1M171.0,90.9Q169.8,85.4 171.1,81.1M179.6,90.9Q180.8,85.4 179.5,81.1M177.6,90.9Q176.4,85.4 177.7,81.1M186.2,90.9Q187.4,85.4 186.1,81.1M184.2,90.9Q183.0,85.4 184.3,81.1M192.8,90.9Q194.0,85.4 192.7,81.1M190.8,90.9Q189.6,85.4 190.9,81.1M199.4,90.9Q200.6,85.4 199.3,81.1M197.4,90.9Q196.2,85.4 197.5,81.1M206.0,90.9Q207.2,85.4 205.9,81.1M204.0,90.9Q202.8,85.4 204.1,81.1M212.6,90.9Q213.8,85.4 212.5,81.1M210.6,90.9Q209.4,85.4 210.7,81.1M219.2,90.9Q220.4,85.4 219.1,81.1M217.2,90.9Q216.0,85.4 217.3,81.1M225.8,90.9Q227.0,85.4 225.7,81.1M223.8,90.9Q222.6,85.4 223.9,81.1M232.4,90.9Q233.6,85.4 232.3,81.1M230.4,90.9Q229.2,85.4 230.5,81.1M239.0,90.9Q240.2,85.4 238.9,81.1M237.0,90.9Q235.8,85.4 237.1,81.1M245.6,90.9Q246.8,85.4 245.5,81.1M243.6,90.9Q242.4,85.4 243.7,81.1M252.2,90.9Q253.4,85.4 252.1,81.1M250.2,90.9Q249.0,85.4 250.3,81.1M258.8,90.9Q260.0,85.4 258.7,81.1M256.8,90.9Q255.6,85.4 256.9,81.1M265.4,90.9Q266.6,85.4 265.3,81.1M263.4,90.9Q262.2,85.4 263.5,81.1M272.0,90.9Q273.2,85.4 271.9,81.1M270.0,90.9Q268.8,85.4 270.1,81.1M278.6,90.9Q279.8,85.4 278.5,81.1M276.6,90.9Q275.4,85.4 276.7,81.1M285.2,90.9Q286.4,85.4 285.1,81.1M283.2,90.9Q282.0,85.4 283.3,81.1M291.8,90.9Q293.0,85.4 291.7,81.1M289.8,90.9Q288.6,85.4 289.9,81.1M298.4,90.9Q299.6,85.4 298.3,81.1M296.4,90.9Q295.2,85.4 296.5,81.1M305.0,90.9Q306.2,85.4 304.9,81.1M303.0,90.9Q301.8,85.4 303.1,81.1M311.6,90.9Q312.8,85.4 311.5,81.1M309.6,90.9Q308.4,85.4 309.7,81.1M318.2,90.9Q319.4,85.4 318.1,81.1M316.2,90.9Q315.0,85.4 316.3,81.1M324.8,90.9Q326.0,85.4 324.7,81.1M322.8,90.9Q321.6,85.4 322.9,81.1M331.4,90.9Q332.6,85.4 331.3,81.1M329.4,90.9Q328.2,85.4 329.5,81.1M338.0,90.9Q339.2,85.4 337.9,81.1M336.0,90.9Q334.8,85.4 336.1,81.1M344.6,90.9Q345.8,85.4 344.5,81.1M342.6,90.9Q341.4,85.4 342.7,81.1M351.2,90.9Q352.4,85.4 351.1,81.1M349.2,90.9Q348.0,85.4 349.3,81.1M357.8,90.9Q359.0,85.4 357.7,81.1M355.8,90.9Q354.6,85.4 355.9,81.1M364.4,90.9Q365.6,85.4 364.3,81.1M362.4,90.9Q361.2,85.4 362.5,81.1M371.0,90.9Q372.2,85.4 370.9,81.1M369.0,90.9Q367.8,85.4 369.1,81.1M377.6,90.9Q378.8,85.4 377.5,81.1M375.6,90.9Q374.4,85.4 375.7,81.1M384.2,90.9Q385.4,85.4 384.1,81.1M382.2,90.9Q381.0,85.4 382.3,81.1M390.8,90.9Q392.0,85.4 390.7,81.1M388.8,90.9Q387.6,85.4 388.9,81.1M397.4,90.9Q398.6,85.4 397.3,81.1M395.4,90.9Q394.2,85.4 395.5,81.1M404.0,90.9Q405.2,85.4 403.9,81.1M402.0,90.9Q400.8,85.4 402.1,81.1M410.6,90.9Q411.8,85.4 410.5,81.1M408.6,90.9Q407.4,85.4 408.7,81.1M417.2,90.9Q418.4,85.4 417.1,81.1M415.2,90.9Q414.0,85.4 415.3,81.1M423.8,90.9Q425.0,85.4 423.7,81.1M421.8,90.9Q420.6,85.4 421.9,81.1M430.4,90.9Q431.6,85.4 430.3,81.1M428.4,90.9Q427.2,85.4 428.5,81.1M437.0,90.9Q438.2,85.4 436.9,81.1M435.0,90.9Q433.8,85.4 435.1,81.1M443.6,90.9Q444.8,85.4 443.5,81.1M441.6,90.9Q440.4,85.4 441.7,81.1M447.3,91.5Q448.5,86.0 447.2,81.7M445.3,91.5Q444.1,86.0 445.4,81.7M451.7,96.9Q455.7,93.1 457.1,88.8M450.0,95.8Q452.1,90.6 455.6,87.8M455.7,102.2Q460.5,99.3 462.8,95.4M454.3,100.7Q457.5,96.1 461.5,94.1M460.0,107.2Q465.1,104.7 467.6,100.9M458.8,105.7Q462.3,101.3 466.4,99.6M464.9,111.8Q469.8,109.1 472.2,105.3M463.6,110.3Q466.9,105.8 471.0,103.9M470.5,115.3Q475.0,111.9 476.8,107.8M469.0,114.0Q471.7,109.1 475.5,106.6M477.0,117.1Q479.9,112.3 480.0,107.8M475.1,116.5Q475.7,110.9 478.3,107.2M483.7,116.5Q483.2,110.9 480.7,107.2M481.8,117.1Q479.0,112.2 479.0,107.7M489.8,114.1Q487.2,109.1 483.4,106.7M488.3,115.4Q483.8,112.0 482.1,107.9M495.3,110.4Q491.9,105.9 487.8,104.0M494.0,111.9Q489.0,109.2 486.7,105.4M500.1,105.8Q496.6,101.4 492.5,99.7M498.8,107.4Q493.8,104.8 491.3,101.1M504.6,100.9Q501.4,96.2 497.3,94.2M503.2,102.3Q498.4,99.4 496.1,95.5M508.9,95.9Q506.8,90.7 503.3,87.9M507.2,97.1Q503.1,93.2 501.8,88.9M513.5,91.7Q514.7,86.2 513.4,81.9M511.5,91.7Q510.3,86.2 511.6,81.9M517.1,90.9Q518.3,85.4 517.0,81.1M515.1,90.9Q513.9,85.4 515.2,81.1M523.7,90.9Q524.9,85.4 523.6,81.1M521.7,90.9Q520.5,85.4 521.8,81.1M530.3,90.9Q531.5,85.4 530.2,81.1M528.3,90.9Q527.1,85.4 528.4,81.1M536.9,90.9Q538.1,85.4 536.8,81.1M534.9,90.9Q533.7,85.4 535.0,81.1M543.5,90.9Q544.7,85.4 543.4,81.1M541.5,90.9Q540.3,85.4 541.6,81.1M550.1,90.9Q551.3,85.4 550.0,81.1M548.1,90.9Q546.9,85.4 548.2,81.1M556.7,90.9Q557.9,85.4 556.6,81.1M554.7,90.9Q553.5,85.4 554.8,81.1M563.3,90.9Q564.5,85.4 563.2,81.1M561.3,90.9Q560.1,85.4 561.4,81.1M569.9,90.9Q571.1,85.4 569.8,81.1M567.9,90.9Q566.7,85.4 568.0,81.1M576.5,90.9Q577.7,85.4 576.4,81.1M574.5,90.9Q573.3,85.4 574.6,81.1M583.1,90.9Q584.3,85.4 583.0,81.1M581.1,90.9Q579.9,85.4 581.2,81.1M589.7,90.9Q590.9,85.4 589.6,81.1M587.7,90.9Q586.5,85.4 587.8,81.1M596.3,90.9Q597.5,85.4 596.2,81.1M594.3,90.9Q593.1,85.4 594.4,81.1M602.9,90.9Q604.1,85.4 602.8,81.1M600.9,90.9Q599.7,85.4 601.0,81.1M609.5,90.9Q610.7,85.4 609.4,81.1M607.5,90.9Q606.3,85.4 607.6,81.1M616.1,90.9Q617.3,85.4 616.0,81.1M614.1,90.9Q612.9,85.4 614.2,81.1M622.7,90.9Q623.9,85.4 622.6,81.1M620.7,90.9Q619.5,85.4 620.8,81.1M629.3,90.9Q630.5,85.4 629.2,81.1M627.3,90.9Q626.1,85.4 627.4,81.1M635.9,90.9Q637.1,85.4 635.8,81.1M633.9,90.9Q632.7,85.4 634.0,81.1M642.5,90.9Q643.7,85.4 642.4,81.1M640.5,90.9Q639.3,85.4 640.6,81.1M649.1,90.9Q650.3,85.4 649.0,81.1M647.1,90.9Q645.9,85.4 647.2,81.1M655.7,90.9Q656.9,85.4 655.6,81.1M653.7,90.9Q652.5,85.4 653.8,81.1M662.3,90.9Q663.5,85.4 662.2,81.1M660.3,90.9Q659.1,85.4 660.4,81.1M668.9,90.9Q670.1,85.4 668.8,81.1M666.9,90.9Q665.7,85.4 667.0,81.1M675.5,90.9Q676.7,85.4 675.4,81.1M673.5,90.9Q672.3,85.4 673.6,81.1M682.1,90.9Q683.3,85.4 682.0,81.1M680.1,90.9Q678.9,85.4 680.2,81.1M688.7,90.9Q689.9,85.4 688.6,81.1M686.7,90.9Q685.5,85.4 686.8,81.1M695.3,90.9Q696.5,85.4 695.2,81.1M693.3,90.9Q692.1,85.4 693.4,81.1M701.9,90.9Q703.1,85.4 701.8,81.1M699.9,90.9Q698.7,85.4 700.0,81.1M708.5,90.9Q709.7,85.4 708.4,81.1M706.5,90.9Q705.3,85.4 706.6,81.1M715.1,90.9Q716.3,85.4 715.0,81.1M713.1,90.9Q711.9,85.4 713.2,81.1M721.7,90.9Q722.9,85.4 721.6,81.1M719.7,90.9Q718.5,85.4 719.8,81.1M728.3,90.9Q729.5,85.4 728.2,81.1M726.3,90.9Q725.1,85.4 726.4,81.1M734.9,90.9Q736.1,85.4 734.8,81.1M732.9,90.9Q731.7,85.4 733.0,81.1M741.5,90.9Q742.7,85.4 741.4,81.1M739.5,90.9Q738.3,85.4 739.6,81.1M748.1,90.9Q749.3,85.4 748.0,81.1M746.1,90.9Q744.9,85.4 746.2,81.1" stroke="#a095b8" stroke-width="0.8" fill="none"/><g fill="url(#head)" stroke="#9c89c2" stroke-width="0.7"><circle cx="20.2" cy="71.7" r="3.0"/><circle cx="26.8" cy="71.7" r="3.0"/><circle cx="33.4" cy="71.7" r="3.0"/><circle cx="40.0" cy="71.7" r="3.0"/><circle cx="46.6" cy="71.7" r="3.0"/><circle cx="53.2" cy="71.7" r="3.0"/><circle cx="59.8" cy="71.7" r="3.0"/><circle cx="66.4" cy="71.7" r="3.0"/><circle cx="73.0" cy="71.7" r="3.0"/><circle cx="79.6" cy="71.7" r="3.0"/><circle cx="86.2" cy="71.7" r="3.0"/><circle cx="92.8" cy="71.7" r="3.0"/><circle cx="99.4" cy="71.7" r="3.0"/><circle cx="106.0" cy="71.7" r="3.0"/><circle cx="112.6" cy="71.7" r="3.0"/><circle cx="119.2" cy="71.7" r="3.0"/><circle cx="125.8" cy="71.7" r="3.0"/><circle cx="132.4" cy="71.7" r="3.0"/><circle cx="139.0" cy="71.7" r="3.0"/><circle cx="145.6" cy="71.7" r="3.0"/><circle cx="152.2" cy="71.7" r="3.0"/><circle cx="158.8" cy="71.7" r="3.0"/><circle cx="165.4" cy="71.7" r="3.0"/><circle cx="172.0" cy="71.7" r="3.0"/><circle cx="178.6" cy="71.7" r="3.0"/><circle cx="185.2" cy="71.7" r="3.0"/><circle cx="191.8" cy="71.7" r="3.0"/><circle cx="198.4" cy="71.7" r="3.0"/><circle cx="205.0" cy="71.7" r="3.0"/><circle cx="211.6" cy="71.7" r="3.0"/><circle cx="218.2" cy="71.7" r="3.0"/><circle cx="224.8" cy="71.7" r="3.0"/><circle cx="231.4" cy="71.7" r="3.0"/><circle cx="238.0" cy="71.7" r="3.0"/><circle cx="244.6" cy="71.7" r="3.0"/><circle cx="251.2" cy="71.7" r="3.0"/><circle cx="257.8" cy="71.7" r="3.0"/><circle cx="264.4" cy="71.7" r="3.0"/><circle cx="271.0" cy="71.7" r="3.0"/><circle cx="277.6" cy="71.7" r="3.0"/><circle cx="284.2" cy="71.7" r="3.0"/><circle cx="290.8" cy="71.7" r="3.0"/><circle cx="297.4" cy="71.7" r="3.0"/><circle cx="304.0" cy="71.7" r="3.0"/><circle cx="310.6" cy="71.7" r="3.0"/><circle cx="317.2" cy="71.7" r="3.0"/><circle cx="323.8" cy="71.7" r="3.0"/><circle cx="330.4" cy="71.7" r="3.0"/><circle cx="337.0" cy="71.7" r="3.0"/><circle cx="343.6" cy="71.7" r="3.0"/><circle cx="350.2" cy="71.7" r="3.0"/><circle cx="356.8" cy="71.7" r="3.0"/><circle cx="363.4" cy="71.7" r="3.0"/><circle cx="370.0" cy="71.7" r="3.0"/><circle cx="376.6" cy="71.7" r="3.0"/><circle cx="383.2" cy="71.7" r="3.0"/><circle cx="389.8" cy="71.7" r="3.0"/><circle cx="396.4" cy="71.7" r="3.0"/><circle cx="403.0" cy="71.7" r="3.0"/><circle cx="409.6" cy="71.7" r="3.0"/><circle cx="416.2" cy="71.7" r="3.0"/><circle cx="422.8" cy="71.7" r="3.0"/><circle cx="429.4" cy="71.7" r="3.0"/><circle cx="436.0" cy="71.7" r="3.0"/><circle cx="442.6" cy="71.7" r="3.0"/><circle cx="449.2" cy="72.0" r="3.0"/><circle cx="455.3" cy="74.3" r="3.0"/><circle cx="460.5" cy="78.5" r="3.0"/><circle cx="465.0" cy="83.4" r="3.0"/><circle cx="469.2" cy="88.5" r="3.0"/><circle cx="473.6" cy="93.5" r="3.0"/><circle cx="478.6" cy="97.6" r="3.0"/><circle cx="484.2" cy="94.8" r="3.0"/><circle cx="488.6" cy="89.9" r="3.0"/><circle cx="492.9" cy="84.7" r="3.0"/><circle cx="497.3" cy="79.7" r="3.0"/><circle cx="502.2" cy="75.3" r="3.0"/><circle cx="508.0" cy="72.4" r="3.0"/><circle cx="514.6" cy="71.7" r="3.0"/><circle cx="521.2" cy="71.7" r="3.0"/><circle cx="527.8" cy="71.7" r="3.0"/><circle cx="534.4" cy="71.7" r="3.0"/><circle cx="541.0" cy="71.7" r="3.0"/><circle cx="547.6" cy="71.7" r="3.0"/><circle cx="554.2" cy="71.7" r="3.0"/><circle cx="560.8" cy="71.7" r="3.0"/><circle cx="567.4" cy="71.7" r="3.0"/><circle cx="574.0" cy="71.7" r="3.0"/><circle cx="580.6" cy="71.7" r="3.0"/><circle cx="587.2" cy="71.7" r="3.0"/><circle cx="593.8" cy="71.7" r="3.0"/><circle cx="600.4" cy="71.7" r="3.0"/><circle cx="607.0" cy="71.7" r="3.0"/><circle cx="613.6" cy="71.7" r="3.0"/><circle cx="620.2" cy="71.7" r="3.0"/><circle cx="626.8" cy="71.7" r="3.0"/><circle cx="633.4" cy="71.7" r="3.0"/><circle cx="640.0" cy="71.7" r="3.0"/><circle cx="646.6" cy="71.7" r="3.0"/><circle cx="653.2" cy="71.7" r="3.0"/><circle cx="659.8" cy="71.7" r="3.0"/><circle cx="666.4" cy="71.7" r="3.0"/><circle cx="673.0" cy="71.7" r="3.0"/><circle cx="679.6" cy="71.7" r="3.0"/><circle cx="686.2" cy="71.7" r="3.0"/><circle cx="692.8" cy="71.7" r="3.0"/><circle cx="699.4" cy="71.7" r="3.0"/><circle cx="706.0" cy="71.7" r="3.0"/><circle cx="712.6" cy="71.7" r="3.0"/><circle cx="719.2" cy="71.7" r="3.0"/><circle cx="725.8" cy="71.7" r="3.0"/><circle cx="732.4" cy="71.7" r="3.0"/><circle cx="739.0" cy="71.7" r="3.0"/><circle cx="745.6" cy="71.7" r="3.0"/><circle cx="20.2" cy="90.9" r="3.0"/><circle cx="26.8" cy="90.9" r="3.0"/><circle cx="33.4" cy="90.9" r="3.0"/><circle cx="40.0" cy="90.9" r="3.0"/><circle cx="46.6" cy="90.9" r="3.0"/><circle cx="53.2" cy="90.9" r="3.0"/><circle cx="59.8" cy="90.9" r="3.0"/><circle cx="66.4" cy="90.9" r="3.0"/><circle cx="73.0" cy="90.9" r="3.0"/><circle cx="79.6" cy="90.9" r="3.0"/><circle cx="86.2" cy="90.9" r="3.0"/><circle cx="92.8" cy="90.9" r="3.0"/><circle cx="99.4" cy="90.9" r="3.0"/><circle cx="106.0" cy="90.9" r="3.0"/><circle cx="112.6" cy="90.9" r="3.0"/><circle cx="119.2" cy="90.9" r="3.0"/><circle cx="125.8" cy="90.9" r="3.0"/><circle cx="132.4" cy="90.9" r="3.0"/><circle cx="139.0" cy="90.9" r="3.0"/><circle cx="145.6" cy="90.9" r="3.0"/><circle cx="152.2" cy="90.9" r="3.0"/><circle cx="158.8" cy="90.9" r="3.0"/><circle cx="165.4" cy="90.9" r="3.0"/><circle cx="172.0" cy="90.9" r="3.0"/><circle cx="178.6" cy="90.9" r="3.0"/><circle cx="185.2" cy="90.9" r="3.0"/><circle cx="191.8" cy="90.9" r="3.0"/><circle cx="198.4" cy="90.9" r="3.0"/><circle cx="205.0" cy="90.9" r="3.0"/><circle cx="211.6" cy="90.9" r="3.0"/><circle cx="218.2" cy="90.9" r="3.0"/><circle cx="224.8" cy="90.9" r="3.0"/><circle cx="231.4" cy="90.9" r="3.0"/><circle cx="238.0" cy="90.9" r="3.0"/><circle cx="244.6" cy="90.9" r="3.0"/><circle cx="251.2" cy="90.9" r="3.0"/><circle cx="257.8" cy="90.9" r="3.0"/><circle cx="264.4" cy="90.9" r="3.0"/><circle cx="271.0" cy="90.9" r="3.0"/><circle cx="277.6" cy="90.9" r="3.0"/><circle cx="284.2" cy="90.9" r="3.0"/><circle cx="290.8" cy="90.9" r="3.0"/><circle cx="297.4" cy="90.9" r="3.0"/><circle cx="304.0" cy="90.9" r="3.0"/><circle cx="310.6" cy="90.9" r="3.0"/><circle cx="317.2" cy="90.9" r="3.0"/><circle cx="323.8" cy="90.9" r="3.0"/><circle cx="330.4" cy="90.9" r="3.0"/><circle cx="337.0" cy="90.9" r="3.0"/><circle cx="343.6" cy="90.9" r="3.0"/><circle cx="350.2" cy="90.9" r="3.0"/><circle cx="356.8" cy="90.9" r="3.0"/><circle cx="363.4" cy="90.9" r="3.0"/><circle cx="370.0" cy="90.9" r="3.0"/><circle cx="376.6" cy="90.9" r="3.0"/><circle cx="383.2" cy="90.9" r="3.0"/><circle cx="389.8" cy="90.9" r="3.0"/><circle cx="396.4" cy="90.9" r="3.0"/><circle cx="403.0" cy="90.9" r="3.0"/><circle cx="409.6" cy="90.9" r="3.0"/><circle cx="416.2" cy="90.9" r="3.0"/><circle cx="422.8" cy="90.9" r="3.0"/><circle cx="429.4" cy="90.9" r="3.0"/><circle cx="436.0" cy="90.9" r="3.0"/><circle cx="442.6" cy="90.9" r="3.0"/><circle cx="446.3" cy="91.5" r="3.0"/><circle cx="450.8" cy="96.4" r="3.0"/><circle cx="455.0" cy="101.5" r="3.0"/><circle cx="459.4" cy="106.5" r="3.0"/><circle cx="464.2" cy="111.0" r="3.0"/><circle cx="469.8" cy="114.7" r="3.0"/><circle cx="476.1" cy="116.8" r="3.0"/><circle cx="482.7" cy="116.8" r="3.0"/><circle cx="489.1" cy="114.8" r="3.0"/><circle cx="494.6" cy="111.1" r="3.0"/><circle cx="499.5" cy="106.6" r="3.0"/><circle cx="503.9" cy="101.6" r="3.0"/><circle cx="508.1" cy="96.5" r="3.0"/><circle cx="512.5" cy="91.7" r="3.0"/><circle cx="516.1" cy="90.9" r="3.0"/><circle cx="522.7" cy="90.9" r="3.0"/><circle cx="529.3" cy="90.9" r="3.0"/><circle cx="535.9" cy="90.9" r="3.0"/><circle cx="542.5" cy="90.9" r="3.0"/><circle cx="549.1" cy="90.9" r="3.0"/><circle cx="555.7" cy="90.9" r="3.0"/><circle cx="562.3" cy="90.9" r="3.0"/><circle cx="568.9" cy="90.9" r="3.0"/><circle cx="575.5" cy="90.9" r="3.0"/><circle cx="582.1" cy="90.9" r="3.0"/><circle cx="588.7" cy="90.9" r="3.0"/><circle cx="595.3" cy="90.9" r="3.0"/><circle cx="601.9" cy="90.9" r="3.0"/><circle cx="608.5" cy="90.9" r="3.0"/><circle cx="615.1" cy="90.9" r="3.0"/><circle cx="621.7" cy="90.9" r="3.0"/><circle cx="628.3" cy="90.9" r="3.0"/><circle cx="634.9" cy="90.9" r="3.0"/><circle cx="641.5" cy="90.9" r="3.0"/><circle cx="648.1" cy="90.9" r="3.0"/><circle cx="654.7" cy="90.9" r="3.0"/><circle cx="661.3" cy="90.9" r="3.0"/><circle cx="667.9" cy="90.9" r="3.0"/><circle cx="674.5" cy="90.9" r="3.0"/><circle cx="681.1" cy="90.9" r="3.0"/><circle cx="687.7" cy="90.9" r="3.0"/><circle cx="694.3" cy="90.9" r="3.0"/><circle cx="700.9" cy="90.9" r="3.0"/><circle cx="707.5" cy="90.9" r="3.0"/><circle cx="714.1" cy="90.9" r="3.0"/><circle cx="720.7" cy="90.9" r="3.0"/><circle cx="727.3" cy="90.9" r="3.0"/><circle cx="733.9" cy="90.9" r="3.0"/><circle cx="740.5" cy="90.9" r="3.0"/><circle cx="747.1" cy="90.9" r="3.0"/></g><path d="M164.90,23.80 C162.23,22.63 155.77,18.83 148.90,16.80 C142.03,14.77 133.02,12.58 123.70,11.60 C114.38,10.62 100.03,10.50 93.00,10.90 C85.97,11.30 84.23,11.85 81.50,14.00 C78.77,16.15 76.82,20.08 76.60,23.80 C76.38,27.52 76.32,33.23 80.20,36.30 C84.08,39.37 92.65,41.25 99.90,42.20 C107.15,43.15 116.02,43.17 123.70,42.00 C131.38,40.83 139.95,37.50 146.00,35.20 C152.05,32.90 156.85,30.10 160.00,28.20 C163.15,26.30 164.08,24.53 164.90,23.80 Z" fill="url(#body)" stroke="#eeb585" stroke-width="1.2" stroke-linejoin="round"/><path d="M128,17 Q148,19 163,23.5 M140,22 Q152,22.5 163,24 M128,32 Q146,30 162,25 M138,36 Q150,31 162,25.5 M92,38 q1.5,-4 3,0 q1.5,-4 3,0 q1.5,-4 3,0 q1.5,-4 3,0 q1.5,-4 3,0 q1.5,-4 3,0" stroke="#f1c398" stroke-width="1.2" fill="none" stroke-linecap="round"/><ellipse cx="106.2" cy="33.8" rx="6.5" ry="3" fill="#cde3a6" transform="rotate(0 106.2 33.8)"/><ellipse cx="105.5" cy="23.1" rx="12.8" ry="8.6" fill="url(#nuc)"/><circle cx="164.5" cy="23.6" r="1.3" fill="#5a3a20"/><g fill="#bfaadf" stroke="#9a84c6" stroke-width="0.7"><circle cx="90.2" cy="17.5" r="2.1"/><circle cx="122.3" cy="18.9" r="2.1"/><circle cx="133.5" cy="22.4" r="2.1"/><circle cx="124.4" cy="28" r="2.1"/><circle cx="134.2" cy="28.7" r="2.1"/><circle cx="120.9" cy="33.5" r="2.1"/></g><circle cx="71.4" cy="15.2" r="5.4" fill="url(#mic3)"/><circle cx="167.5" cy="31.2" r="5.4" fill="url(#mic6)"/><path d="M105.8,50.8 L111.0,50.8 Q112.0,50.8 112.3,52.3 Q113.0,59.8 115.6,63.3 L115.6,122.2 Q115.6,125.2 112.6,125.2 L105.8,125.2 Q102.8,125.2 102.8,122.2 L102.8,53.8 Q102.8,50.8 105.8,50.8 Z" fill="url(#egfrh)"/><path d="M130.8,50.8 L125.6,50.8 Q124.6,50.8 124.3,52.3 Q123.6,59.8 121.0,63.3 L121.0,122.2 Q121.0,125.2 124.0,125.2 L130.8,125.2 Q133.8,125.2 133.8,122.2 L133.8,53.8 Q133.8,50.8 130.8,50.8 Z" fill="url(#egfrh2)"/><path d="M112.8,52.8 Q113.5,59.8 114.8,63.3 M123.8,52.8 Q123.1,59.8 121.8,63.3" stroke="#cfe6f0" stroke-width="1.4" fill="none"/><ellipse cx="110.19999999999999" cy="81.8" rx="7.68" ry="6" fill="url(#pinch)"/><ellipse cx="126.4" cy="81.8" rx="7.68" ry="6" fill="url(#pinch)"/><circle cx="112" cy="47.5" r="5.3" fill="url(#mic3)"/><circle cx="125.5" cy="47.5" r="5.3" fill="url(#mic6)"/><path d="M606.3,53 L613.4,53 Q614.4,53 614.6999999999999,54.5 Q615.4,62 618.0,65.5 L618.0,124.5 Q618.0,127.5 615.0,127.5 L606.3,127.5 Q603.3,127.5 603.3,124.5 L603.3,56 Q603.3,53 606.3,53 Z" fill="url(#egfrh)"/><path d="M632.7,53 L625.6,53 Q624.6,53 624.3000000000001,54.5 Q623.6,62 621.0,65.5 L621.0,124.5 Q621.0,127.5 624.0,127.5 L632.7,127.5 Q635.7,127.5 635.7,124.5 L635.7,56 Q635.7,53 632.7,53 Z" fill="url(#egfrh2)"/><path d="M615.1999999999999,55 Q615.9,62 617.2,65.5 M623.8000000000001,55 Q623.1,62 621.8,65.5" stroke="#cfe6f0" stroke-width="1.4" fill="none"/><ellipse cx="611.65" cy="84" rx="8.819999999999999" ry="6" fill="url(#pinch)"/><ellipse cx="627.35" cy="84" rx="8.819999999999999" ry="6" fill="url(#pinch)"/><path d="M349.40,130.80 C348.28,128.40 345.23,122.90 342.70,116.40 C340.17,109.90 336.12,99.70 334.20,91.80 C332.28,83.90 331.23,75.63 331.20,69.00 C331.17,62.37 332.45,56.25 334.00,52.00 C335.55,47.75 338.10,45.47 340.50,43.50 C342.90,41.53 345.50,40.40 348.40,40.20 C351.30,40.00 355.50,39.50 357.90,42.30 C360.30,45.10 362.02,51.55 362.80,57.00 C363.58,62.45 362.95,69.20 362.60,75.00 C362.25,80.80 361.97,85.22 360.70,91.80 C359.43,98.38 356.88,108.00 355.00,114.50 C353.12,121.00 350.33,128.08 349.40,130.80 Z" fill="url(#body)" stroke="#eeb585" stroke-width="1.2" stroke-linejoin="round"/><path d="M349,128 Q342,110 340,95 M349.5,128 Q348,110 348,97 M350,128 Q354,110 356,95 M336,62 q3,1.5 0,3 q3,1.5 0,3 q3,1.5 0,3 q3,1.5 0,3" stroke="#f1c398" stroke-width="1.2" fill="none" stroke-linecap="round"/><ellipse cx="339.6" cy="70" rx="2.6" ry="6.5" fill="#cde3a6" transform="rotate(0 339.6 70)"/><ellipse cx="349.4" cy="71.9" rx="8.5" ry="12.3" fill="url(#nuc)"/><circle cx="349.4" cy="130" r="1.3" fill="#5a3a20"/><g fill="#bfaadf" stroke="#9a84c6" stroke-width="0.7"><circle cx="338.9" cy="86.1" r="2.1"/><circle cx="345.6" cy="89.9" r="2.1"/><circle cx="355" cy="88" r="2.1"/><circle cx="344.6" cy="99.4" r="2.1"/><circle cx="350.3" cy="99.4" r="2.1"/><circle cx="356" cy="55.8" r="2.1"/></g><path d="M481.20,94.80 C480.10,93.50 476.80,90.80 474.60,87.00 C472.40,83.20 469.83,78.30 468.00,72.00 C466.17,65.70 464.23,56.47 463.60,49.20 C462.97,41.93 463.00,35.02 464.20,28.40 C465.40,21.78 467.80,13.77 470.80,9.50 C473.80,5.23 479.20,3.43 482.20,2.80 C485.20,2.17 486.92,3.33 488.80,5.70 C490.68,8.07 492.55,11.02 493.50,17.00 C494.45,22.98 494.97,33.38 494.50,41.60 C494.03,49.82 491.97,59.03 490.70,66.30 C489.43,73.57 488.48,80.45 486.90,85.20 C485.32,89.95 482.15,93.20 481.20,94.80 Z" fill="url(#body)" stroke="#eeb585" stroke-width="1.2" stroke-linejoin="round"/><path d="M481,92 Q474,76 472,62 M481.5,92 Q480,76 480,64 M482,92 Q486,76 488,62 M467.5,27 q3,1.5 0,3 q3,1.5 0,3 q3,1.5 0,3 q3,1.5 0,3" stroke="#f1c398" stroke-width="1.2" fill="none" stroke-linecap="round"/><ellipse cx="471.2" cy="34" rx="2.6" ry="6.5" fill="#cde3a6" transform="rotate(0 471.2 34)"/><ellipse cx="482.2" cy="36" rx="8.5" ry="12.3" fill="url(#nuc)"/><circle cx="481.2" cy="94" r="1.3" fill="#5a3a20"/><g fill="#bfaadf" stroke="#9a84c6" stroke-width="0.7"><circle cx="471.8" cy="50.2" r="2.1"/><circle cx="478" cy="53.6" r="2.1"/><circle cx="486" cy="50.7" r="2.1"/><circle cx="476.5" cy="62.5" r="2.1"/><circle cx="483.1" cy="61.5" r="2.1"/><circle cx="488.8" cy="18.9" r="2.1"/></g><circle cx="458.3" cy="88.7" r="9.4" fill="url(#teal)" stroke="#4f93b0" stroke-width="0.6"/><circle cx="500.2" cy="88.7" r="9.4" fill="url(#teal)" stroke="#4f93b0" stroke-width="0.6"/><g fill="#9fb2d3" stroke="#93a6c8" stroke-width="0.6"><circle cx="570.2" cy="95.5" r="6.5"/><circle cx="585.6" cy="95.5" r="6.5"/><circle cx="553.1" cy="107" r="6.3"/><circle cx="560.8" cy="119.7" r="6.5"/><circle cx="576.2" cy="115.5" r="6.5"/></g><circle cx="526.8" cy="108" r="22" fill="url(#fak)" stroke="#c86c94" stroke-width="0.8"/><path d="M533,89.5 q5,1 8,4" stroke="#f3c4d8" stroke-width="1.5" fill="none"/><polygon points="135.5,135.8 131.6,128.6 123.6,127.2 129.2,121.3 128.2,113.2 135.5,116.7 142.8,113.2 141.8,121.3 147.4,127.2 139.4,128.6" fill="#ee6a1f" stroke="#e25f15" stroke-width="0.6" stroke-linejoin="round"/><polygon points="598.0,129.2 593.5,120.7 584.1,119.1 590.8,112.3 589.4,102.8 598.0,107.0 606.6,102.8 605.2,112.3 611.9,119.1 602.5,120.7" fill="#ee6a1f" stroke="#e25f15" stroke-width="0.6" stroke-linejoin="round"/><text x="132.2" y="126" font-size="10" fill="#3a1a0a" stroke="#3a1a0a" stroke-width="0.25" text-anchor="start">P</text><text x="594.0" y="119.3" font-size="14.5" fill="#2a1208" stroke="#2a1208" stroke-width="0.25" text-anchor="start">P</text><text x="36.4" y="42" font-size="16.5" fill="#1b1b1b" stroke="#1b1b1b" stroke-width="0.25" text-anchor="start">MIC3</text><text x="181.4" y="40" font-size="16.5" fill="#1b1b1b" stroke="#1b1b1b" stroke-width="0.25" text-anchor="start">MIC6</text><text x="51.8" y="121" font-size="16.5" fill="#1b1b1b" stroke="#1b1b1b" stroke-width="0.25" text-anchor="start">EGFR</text><text x="144.6" y="141.3" font-size="14.5" fill="#1b1b1b" stroke="#1b1b1b" stroke-width="0.25" text-anchor="start">Phosphorylation</text><text x="372.9" y="134.8" font-size="16.5" fill="#1b1b1b" stroke="#1b1b1b" stroke-width="0.25" text-anchor="start">Moving junction</text><text x="511" y="112.9" font-size="16.5" fill="#1e0f16" stroke="#1e0f16" stroke-width="0.25" text-anchor="start">FAK</text><text x="558.8" y="142.2" font-size="15" fill="#1b1b1b" stroke="#1b1b1b" stroke-width="0.25" text-anchor="start">Src</text><text x="646" y="119.1" font-size="16.5" fill="#1b1b1b" stroke="#1b1b1b" stroke-width="0.25" text-anchor="start">EGFR</text><text x="637.5" y="138.1" font-size="14.5" fill="#1b1b1b" stroke="#1b1b1b" stroke-width="0.25" text-anchor="start">Phosphorylation</text><line x1="255.5" y1="91" x2="255.5" y2="501" stroke="#8090b0" stroke-width="1" stroke-dasharray="9 10"/><line x1="118.3" y1="130" x2="118.4" y2="163.6" stroke="#111" stroke-width="1.8"/><polygon points="118.5,175.0 112.6,161.0 118.4,163.6 124.2,161.0" fill="#111"/><rect x="77.5" y="181.8" width="75" height="38" rx="7.5" fill="#c4e0ea" stroke="#a9cfdc" stroke-width="1.5"/><ellipse cx="145" cy="187.5" rx="3.5" ry="2" fill="#eaf6fa" transform="rotate(35 145 187.5)"/><path d="M78.3,208 Q78.8,218.5 89,219.3" stroke="#eef7fa" stroke-width="1.3" fill="none"/><text x="94.5" y="205.6" font-size="16.5" fill="#1b1b1b" stroke="#1b1b1b" stroke-width="0.25" text-anchor="start">PI3K</text><line x1="115.2" y1="231.3" x2="128.8" y2="265.1" stroke="#111" stroke-width="1.8"/><polygon points="133.1,275.7 122.5,264.9 128.8,265.1 133.2,260.5" fill="#111"/><g fill="#7aa9c9"><ellipse cx="157.6" cy="270.1" rx="16" ry="8.1"/><ellipse cx="109.2" cy="315.6" rx="9.3" ry="16" transform="rotate(12 109.2 315.6)"/><ellipse cx="202.5" cy="310.8" rx="9" ry="16" transform="rotate(-8 202.5 310.8)"/><ellipse cx="104.8" cy="376" rx="9" ry="15.6" transform="rotate(5 104.8 376)"/><ellipse cx="195" cy="378.5" rx="9.2" ry="15.6" transform="rotate(15 195 378.5)"/><ellipse cx="40" cy="424.7" rx="16.3" ry="8.5"/></g><text x="65.7" y="428.7" font-size="14.5" fill="#1b1b1b" stroke="#1b1b1b" stroke-width="0.25" text-anchor="start">PIP3</text><ellipse cx="154" cy="335.3" rx="36.5" ry="52.5" fill="#d5a9d6" stroke="#2e2850" stroke-width="1.6" transform="rotate(3 154 335.3)"/><ellipse cx="154.8" cy="336.2" rx="28.3" ry="45.8" fill="#e2cfe6" stroke="#2e2850" stroke-width="1.5" transform="rotate(3 154.8 336.2)"/><path d="M155.80,295.90 C156.97,297.73 160.82,300.43 162.80,306.90 C164.78,313.37 167.05,326.10 167.70,334.70 C168.35,343.30 167.85,352.22 166.70,358.50 C165.55,364.78 164.10,369.22 160.80,372.40 C157.50,375.58 150.42,378.27 146.90,377.60 C143.38,376.93 141.23,372.90 139.70,368.40 C138.17,363.90 137.33,357.22 137.70,350.60 C138.07,343.98 140.05,335.67 141.90,328.70 C143.75,321.73 146.48,314.27 148.80,308.80 C151.12,303.33 154.63,298.05 155.80,295.90 Z" fill="url(#body)" stroke="#eeb585" stroke-width="1.2" stroke-linejoin="round"/><path d="M155.5,298 Q150,312 148,322 M155.8,298 Q156,312 156,320 M156,298 Q161,312 163,322" stroke="#f1c398" stroke-width="1.2" fill="none" stroke-linecap="round"/><ellipse cx="160.2" cy="351" rx="2.5" ry="6" fill="#cde3a6" transform="rotate(10 160.2 351)"/><ellipse cx="149.8" cy="349.2" rx="11" ry="12" fill="url(#nuc)"/><circle cx="155.8" cy="296.5" r="1.3" fill="#5a3a20"/><g fill="#bfaadf" stroke="#9a84c6" stroke-width="0.7"><circle cx="150.8" cy="323.7" r="2.1"/><circle cx="156.4" cy="323.7" r="2.1"/><circle cx="145.9" cy="332.7" r="2.1"/><circle cx="154.4" cy="332.7" r="2.1"/><circle cx="160.4" cy="336.3" r="2.1"/></g><line x1="150" y1="397.5" x2="150.2" y2="437.9" stroke="#111" stroke-width="1.8"/><polygon points="150.2,449.3 144.3,435.3 150.2,437.9 155.9,435.3" fill="#111"/><ellipse cx="149.6" cy="480.2" rx="35.3" ry="20" fill="#e0a2c8" stroke="#c88cb3" stroke-width="1"/><ellipse cx="169.6" cy="490" rx="3.3" ry="1.8" fill="#f8e6f0" transform="rotate(-25 169.6 490)"/><text x="136.3" y="483.8" font-size="16.5" fill="#26141f" stroke="#26141f" stroke-width="0.25" text-anchor="start">Akt</text><line x1="348.3" y1="145.2" x2="348.3" y2="219.4" stroke="#111" stroke-width="1.8"/><polygon points="348.3,230.8 342.5,216.8 348.3,219.4 354.1,216.8" fill="#111"/><ellipse cx="353.5" cy="273.6" rx="44.3" ry="23.8" fill="#a1c5a0" stroke="#8ab18b" stroke-width="1"/><ellipse cx="327.3" cy="261.7" rx="5.8" ry="3.8" fill="#eef4ea" transform="rotate(-25 327.3 261.7)"/><text x="335.9" y="279.4" font-size="16.5" fill="#1a241a" stroke="#1a241a" stroke-width="0.25" text-anchor="start">PKC</text><line x1="397.3" y1="250.5" x2="499.7" y2="147.0" stroke="#111" stroke-width="1.8"/><polygon points="507.7,138.9 502.0,152.9 499.7,147.0 493.7,144.8" fill="#111"/><line x1="327.1" y1="307.7" x2="189.4" y2="448.6" stroke="#111" stroke-width="1.8"/><polygon points="180.3,457.9 186.8,441.8 189.4,448.6 196.2,451.1" fill="#111"/><path d="M426.0,185.3H441.0M433.5,177.8V192.8" stroke="#f0b22f" stroke-width="2"/><path d="M274.9,328.6H289.9M282.4,321.1V336.1" stroke="#f0b22f" stroke-width="2"/><line x1="612.8" y1="129.9" x2="568.4" y2="194.2" stroke="#111" stroke-width="1.8"/><polygon points="561.9,203.6 565.1,188.8 568.4,194.2 574.6,195.4" fill="#111"/><rect x="527.6" y="213.2" width="69" height="34" fill="#a0d3db" stroke="#8cc3cc" stroke-width="1"/><path d="M530,216 v6" stroke="#e6f5f7" stroke-width="1.6"/><text x="536.8" y="237.2" font-size="16.5" fill="#14262a" stroke="#14262a" stroke-width="0.25" text-anchor="start">STAT3</text><line x1="564" y1="253.8" x2="564" y2="297.2" stroke="#111" stroke-width="1.8"/><line x1="558.5" y1="297.2" x2="569.5" y2="297.2" stroke="#111" stroke-width="1.8"/><line x1="591" y1="273" x2="668.4" y2="329.3" stroke="#111" stroke-width="1.8"/><line x1="665.5" y1="333.3" x2="671.3" y2="325.3" stroke="#111" stroke-width="1.8"/><polygon points="564.0,303.3 594.7,325.6 583.0,361.7 545.0,361.7 533.3,325.6" fill="#d6a4d3" stroke="#bb8db8" stroke-width="1.2" stroke-linejoin="round"/><path d="M568,358.5 Q577,356 583.5,349.5 L581,358.5 Z" fill="#f2e0ef"/><text x="544.3" y="337.5" font-size="16.5" fill="#2a1030" stroke="#2a1030" stroke-width="0.25" text-anchor="start">eIF2α</text><circle cx="705.3" cy="343.5" r="27" fill="none" stroke="#f6ecd2" stroke-width="1.5"/><circle cx="705.3" cy="343.5" r="26.3" fill="url(#pkr)" stroke="#cfa94f" stroke-width="0.8"/><path d="M712.5,323.5 Q720,322 724,331 Q718,328 712.5,323.5 Z" fill="#f7ecc8" stroke="#f3e3b5" stroke-width="2" stroke-linejoin="round"/><text x="687.8" y="349.8" font-size="16.5" fill="#231a08" stroke="#231a08" stroke-width="0.25" text-anchor="start">PKR</text><line x1="564.4" y1="369.1" x2="564.4" y2="411.2" stroke="#111" stroke-width="1.8"/><polygon points="564.4,422.6 558.6,408.6 564.4,411.2 570.2,408.6" fill="#111"/><line x1="683.9" y1="374.6" x2="622.5" y2="431.9" stroke="#111" stroke-width="1.8"/><polygon points="614.2,439.7 620.5,425.9 622.5,431.9 628.4,434.4" fill="#111"/><g fill="url(#gball)" stroke="#4d8a3e" stroke-width="1.2"><circle cx="324.7" cy="430.9" r="7.6"/><circle cx="339.5" cy="438.3" r="7.6"/><circle cx="372.1" cy="428.7" r="7.6"/><circle cx="362.6" cy="447.5" r="7.6"/><circle cx="381.5" cy="451.2" r="7.6"/><circle cx="332.1" cy="458.2" r="7.6"/><circle cx="353" cy="463.2" r="7.6"/></g><line x1="221" y1="477" x2="487.5" y2="477" stroke="#111" stroke-width="1.8"/><line x1="487.5" y1="481.5" x2="487.5" y2="472.5" stroke="#111" stroke-width="1.8"/><text x="298.8" y="499.4" font-size="14.5" fill="#1b1b1b" stroke="#1b1b1b" stroke-width="0.25" text-anchor="start">Negative Regulator</text><text x="318.9" y="516.2" font-size="14.5" fill="#1b1b1b" stroke="#1b1b1b" stroke-width="0.25" text-anchor="start">of Autophagy</text><ellipse cx="575.9" cy="470" rx="33" ry="31" fill="#f1f5f3"/><circle cx="527.8" cy="483.8" r="17" fill="#f3f6f4"/><path d="M540.71,469.42 L540.75,468.27 L540.83,467.12 L540.96,465.97 L541.13,464.82 L541.35,463.68 L541.60,462.55 L541.90,461.43 L542.24,460.32 L542.62,459.22 L543.04,458.14 L543.50,457.07 L544.00,456.01 L544.54,454.97 L545.11,453.95 L545.73,452.95 L546.38,451.97 L547.07,451.01 L547.79,450.08 L548.54,449.17 L549.33,448.28 L550.16,447.43 L551.01,446.59 L551.89,445.79 L552.81,445.02 L553.75,444.28 L554.72,443.57 L555.71,442.89 L556.73,442.24 L557.77,441.63 L558.83,441.05 L559.92,440.51 L561.02,440.00 L562.15,439.53 L563.29,439.10 L564.44,438.70 L565.61,438.35 L566.79,438.03 L567.98,437.75 L569.18,437.51 L570.39,437.31 L571.61,437.15 L572.83,437.03 L574.06,436.95 L575.29,436.91 L576.51,436.91 L577.74,436.95 L578.97,437.03 L580.19,437.15 L581.41,437.31 L582.62,437.51 L583.82,437.75 L585.01,438.03 L586.19,438.35 L587.36,438.70 L588.51,439.10 L589.65,439.53 L590.78,440.00 L591.88,440.51 L592.97,441.05 L594.03,441.63 L595.07,442.24 L596.09,442.89 L597.08,443.57 L598.05,444.28 L598.99,445.02 L599.91,445.79 L600.79,446.59 L601.64,447.43 L602.47,448.28 L603.26,449.17 L604.01,450.08 L604.73,451.01 L605.42,451.97 L606.07,452.95 L606.69,453.95 L607.26,454.97 L607.80,456.01 L608.30,457.07 L608.76,458.14 L609.18,459.22 L609.56,460.32 L609.90,461.43 L610.20,462.55 L610.45,463.68 L610.67,464.82 L610.84,465.97 L610.97,467.12 L611.05,468.27 L611.09,469.42 L611.09,470.58 L611.05,471.73 L610.97,472.88 L610.84,474.03 L610.67,475.18 L610.45,476.32 L610.20,477.45 L609.90,478.57 L609.56,479.68 L609.18,480.78 L608.76,481.86 L608.30,482.93 L607.80,483.99 L607.26,485.03 L606.69,486.05 L606.07,487.05 L605.42,488.03 L604.73,488.99 L604.01,489.92 L603.26,490.83 L602.47,491.72 L601.64,492.57 L600.79,493.41 L599.91,494.21 L598.99,494.98 L598.05,495.72 L597.08,496.43 L596.09,497.11 L595.07,497.76 L594.03,498.37 L592.97,498.95 L591.88,499.49 L590.78,500.00 L589.65,500.47 L588.51,500.90 L587.36,501.30 L586.19,501.65 L585.01,501.97 L583.82,502.25 L582.62,502.49 L581.41,502.69 L580.19,502.85 L578.97,502.97 L577.74,503.05 L576.51,503.09 L575.29,503.09 L574.06,503.05 L572.83,502.97 L571.61,502.85 L570.39,502.69 L569.18,502.49 L567.98,502.25 L566.79,501.97 L565.61,501.65 L564.44,501.30 L563.29,500.90 L562.15,500.47 L561.02,500.00 L559.92,499.49 L558.83,498.95 L557.77,498.37 L556.73,497.76 L555.71,497.11 L554.72,496.43 L553.75,495.72 L552.81,494.98 L551.89,494.21 L551.01,493.41 L550.16,492.57 L549.33,491.72 L548.54,490.83 L548.54,490.83" fill="none" stroke="#33203f" stroke-width="7"/><path d="M545.94,488.32 L545.78,488.95 L545.58,489.58 L545.37,490.20 L545.14,490.81 L544.88,491.41 L544.61,492.00 L544.31,492.58 L543.99,493.15 L543.66,493.71 L543.30,494.26 L542.93,494.79 L542.54,495.31 L542.13,495.82 L541.70,496.31 L541.25,496.79 L540.79,497.25 L540.31,497.70 L539.82,498.13 L539.31,498.54 L538.79,498.93 L538.26,499.30 L537.71,499.66 L537.15,499.99 L536.58,500.31 L536.00,500.61 L535.41,500.88 L534.81,501.14 L534.20,501.37 L533.58,501.58 L532.95,501.78 L532.32,501.94 L531.69,502.09 L531.05,502.22 L530.40,502.32 L529.75,502.40 L529.10,502.45 L528.45,502.49 L527.80,502.50 L527.15,502.49 L526.50,502.45 L525.85,502.40 L525.20,502.32 L524.55,502.22 L523.91,502.09 L523.28,501.94 L522.65,501.78 L522.02,501.58 L521.40,501.37 L520.79,501.14 L520.19,500.88 L519.60,500.61 L519.02,500.31 L518.45,499.99 L517.89,499.66 L517.34,499.30 L516.81,498.93 L516.29,498.54 L515.78,498.13 L515.29,497.70 L514.81,497.25 L514.35,496.79 L513.90,496.31 L513.47,495.82 L513.06,495.31 L512.67,494.79 L512.30,494.26 L511.94,493.71 L511.61,493.15 L511.29,492.58 L510.99,492.00 L510.72,491.41 L510.46,490.81 L510.23,490.20 L510.02,489.58 L509.82,488.95 L509.66,488.32 L509.51,487.69 L509.38,487.05 L509.28,486.40 L509.20,485.75 L509.15,485.10 L509.11,484.45 L509.10,483.80 L509.11,483.15 L509.15,482.50 L509.20,481.85 L509.28,481.20 L509.38,480.55 L509.51,479.91 L509.66,479.28 L509.82,478.65 L510.02,478.02 L510.23,477.40 L510.46,476.79 L510.72,476.19 L510.99,475.60 L511.29,475.02 L511.61,474.45 L511.94,473.89 L512.30,473.34 L512.67,472.81 L513.06,472.29 L513.47,471.78 L513.90,471.29 L514.35,470.81 L514.81,470.35 L515.29,469.90 L515.78,469.47 L516.29,469.06 L516.81,468.67 L517.34,468.30 L517.89,467.94 L518.45,467.61 L519.02,467.29 L519.60,466.99 L520.19,466.72 L520.79,466.46 L521.40,466.23 L522.02,466.02 L522.65,465.82 L523.28,465.66 L523.91,465.51 L524.55,465.38 L525.20,465.28 L525.85,465.20 L526.50,465.15 L527.15,465.11 L527.80,465.10 L528.45,465.11 L529.10,465.15 L529.75,465.20 L530.40,465.28 L531.05,465.38 L531.69,465.51 L532.32,465.66 L532.95,465.82 L533.58,466.02 L534.20,466.23 L534.81,466.46 L535.41,466.72 L536.00,466.99 L536.58,467.29 L537.15,467.61 L537.71,467.94 L538.26,468.30 L538.53,468.48" fill="none" stroke="#3a1414" stroke-width="7"/><path d="M540.71,469.42 L540.75,468.27 L540.83,467.12 L540.96,465.97 L541.13,464.82 L541.35,463.68 L541.60,462.55 L541.90,461.43 L542.24,460.32 L542.62,459.22 L543.04,458.14 L543.50,457.07 L544.00,456.01 L544.54,454.97 L545.11,453.95 L545.73,452.95 L546.38,451.97 L547.07,451.01 L547.79,450.08 L548.54,449.17 L549.33,448.28 L550.16,447.43 L551.01,446.59 L551.89,445.79 L552.81,445.02 L553.75,444.28 L554.72,443.57 L555.71,442.89 L556.73,442.24 L557.77,441.63 L558.83,441.05 L559.92,440.51 L561.02,440.00 L562.15,439.53 L563.29,439.10 L564.44,438.70 L565.61,438.35 L566.79,438.03 L567.98,437.75 L569.18,437.51 L570.39,437.31 L571.61,437.15 L572.83,437.03 L574.06,436.95 L575.29,436.91 L576.51,436.91 L577.74,436.95 L578.97,437.03 L580.19,437.15 L581.41,437.31 L582.62,437.51 L583.82,437.75 L585.01,438.03 L586.19,438.35 L587.36,438.70 L588.51,439.10 L589.65,439.53 L590.78,440.00 L591.88,440.51 L592.97,441.05 L594.03,441.63 L595.07,442.24 L596.09,442.89 L597.08,443.57 L598.05,444.28 L598.99,445.02 L599.91,445.79 L600.79,446.59 L601.64,447.43 L602.47,448.28 L603.26,449.17 L604.01,450.08 L604.73,451.01 L605.42,451.97 L606.07,452.95 L606.69,453.95 L607.26,454.97 L607.80,456.01 L608.30,457.07 L608.76,458.14 L609.18,459.22 L609.56,460.32 L609.90,461.43 L610.20,462.55 L610.45,463.68 L610.67,464.82 L610.84,465.97 L610.97,467.12 L611.05,468.27 L611.09,469.42 L611.09,470.58 L611.05,471.73 L610.97,472.88 L610.84,474.03 L610.67,475.18 L610.45,476.32 L610.20,477.45 L609.90,478.57 L609.56,479.68 L609.18,480.78 L608.76,481.86 L608.30,482.93 L607.80,483.99 L607.26,485.03 L606.69,486.05 L606.07,487.05 L605.42,488.03 L604.73,488.99 L604.01,489.92 L603.26,490.83 L602.47,491.72 L601.64,492.57 L600.79,493.41 L599.91,494.21 L598.99,494.98 L598.05,495.72 L597.08,496.43 L596.09,497.11 L595.07,497.76 L594.03,498.37 L592.97,498.95 L591.88,499.49 L590.78,500.00 L589.65,500.47 L588.51,500.90 L587.36,501.30 L586.19,501.65 L585.01,501.97 L583.82,502.25 L582.62,502.49 L581.41,502.69 L580.19,502.85 L578.97,502.97 L577.74,503.05 L576.51,503.09 L575.29,503.09 L574.06,503.05 L572.83,502.97 L571.61,502.85 L570.39,502.69 L569.18,502.49 L567.98,502.25 L566.79,501.97 L565.61,501.65 L564.44,501.30 L563.29,500.90 L562.15,500.47 L561.02,500.00 L559.92,499.49 L558.83,498.95 L557.77,498.37 L556.73,497.76 L555.71,497.11 L554.72,496.43 L553.75,495.72 L552.81,494.98 L551.89,494.21 L551.01,493.41 L550.16,492.57 L549.33,491.72 L548.54,490.83 L548.54,490.83" fill="none" stroke="#b066ae" stroke-width="4.6"/><path d="M545.94,488.32 L545.78,488.95 L545.58,489.58 L545.37,490.20 L545.14,490.81 L544.88,491.41 L544.61,492.00 L544.31,492.58 L543.99,493.15 L543.66,493.71 L543.30,494.26 L542.93,494.79 L542.54,495.31 L542.13,495.82 L541.70,496.31 L541.25,496.79 L540.79,497.25 L540.31,497.70 L539.82,498.13 L539.31,498.54 L538.79,498.93 L538.26,499.30 L537.71,499.66 L537.15,499.99 L536.58,500.31 L536.00,500.61 L535.41,500.88 L534.81,501.14 L534.20,501.37 L533.58,501.58 L532.95,501.78 L532.32,501.94 L531.69,502.09 L531.05,502.22 L530.40,502.32 L529.75,502.40 L529.10,502.45 L528.45,502.49 L527.80,502.50 L527.15,502.49 L526.50,502.45 L525.85,502.40 L525.20,502.32 L524.55,502.22 L523.91,502.09 L523.28,501.94 L522.65,501.78 L522.02,501.58 L521.40,501.37 L520.79,501.14 L520.19,500.88 L519.60,500.61 L519.02,500.31 L518.45,499.99 L517.89,499.66 L517.34,499.30 L516.81,498.93 L516.29,498.54 L515.78,498.13 L515.29,497.70 L514.81,497.25 L514.35,496.79 L513.90,496.31 L513.47,495.82 L513.06,495.31 L512.67,494.79 L512.30,494.26 L511.94,493.71 L511.61,493.15 L511.29,492.58 L510.99,492.00 L510.72,491.41 L510.46,490.81 L510.23,490.20 L510.02,489.58 L509.82,488.95 L509.66,488.32 L509.51,487.69 L509.38,487.05 L509.28,486.40 L509.20,485.75 L509.15,485.10 L509.11,484.45 L509.10,483.80 L509.11,483.15 L509.15,482.50 L509.20,481.85 L509.28,481.20 L509.38,480.55 L509.51,479.91 L509.66,479.28 L509.82,478.65 L510.02,478.02 L510.23,477.40 L510.46,476.79 L510.72,476.19 L510.99,475.60 L511.29,475.02 L511.61,474.45 L511.94,473.89 L512.30,473.34 L512.67,472.81 L513.06,472.29 L513.47,471.78 L513.90,471.29 L514.35,470.81 L514.81,470.35 L515.29,469.90 L515.78,469.47 L516.29,469.06 L516.81,468.67 L517.34,468.30 L517.89,467.94 L518.45,467.61 L519.02,467.29 L519.60,466.99 L520.19,466.72 L520.79,466.46 L521.40,466.23 L522.02,466.02 L522.65,465.82 L523.28,465.66 L523.91,465.51 L524.55,465.38 L525.20,465.28 L525.85,465.20 L526.50,465.15 L527.15,465.11 L527.80,465.10 L528.45,465.11 L529.10,465.15 L529.75,465.20 L530.40,465.28 L531.05,465.38 L531.69,465.51 L532.32,465.66 L532.95,465.82 L533.58,466.02 L534.20,466.23 L534.81,466.46 L535.41,466.72 L536.00,466.99 L536.58,467.29 L537.15,467.61 L537.71,467.94 L538.26,468.30 L538.53,468.48" fill="none" stroke="#e0393a" stroke-width="4.6"/><g transform="rotate(-16 573 470.3)"><ellipse cx="573" cy="470.3" rx="28.5" ry="14" fill="#cbb5d9" stroke="#34305e" stroke-width="1.2"/><ellipse cx="573" cy="470.3" rx="24" ry="10.3" fill="#e4d0e3" stroke="#34305e" stroke-width="1"/><ellipse cx="574" cy="470.3" rx="20" ry="7.3" fill="#f1dbc6"/></g><circle cx="568.8" cy="471" r="4.6" fill="#e3a765"/><circle cx="568.3" cy="470.3" r="2.6" fill="#eec08a"/><g fill="none" stroke="#b7a2cf" stroke-width="0.8"><circle cx="578" cy="467" r="1.5"/><circle cx="580" cy="471.5" r="1.5"/><circle cx="577" cy="474" r="1.3"/></g><g stroke="#2f3f70" stroke-width="1"><path d="M551,447 L555.1,450.8 M588,444 L585.7,447.5 M607,469 L603.4,469.3 M578,499 L577.7,495" /></g><g fill="#6f89c4" stroke="#2f3f70" stroke-width="0.9"><circle cx="555.1" cy="450.8" r="3.3"/><circle cx="585.7" cy="447.5" r="3.3"/><circle cx="603.4" cy="469.3" r="3.3"/><circle cx="577.7" cy="495" r="3.3"/></g><path d="M523.8,477.9 L525.44,481.77 A4.2,4.2 0 1 1 527.99,478.12 Z" fill="#e0393a" stroke="#3a1010" stroke-width="0.9"/><path d="M536.4,478.6 L532.23,478.09 A4.2,4.2 0 1 1 534.11,482.12 Z" fill="#e0393a" stroke="#3a1010" stroke-width="0.9"/><path d="M529.8,491.7 L533.99,491.48 A4.2,4.2 0 1 1 531.44,487.83 Z" fill="#e0393a" stroke="#3a1010" stroke-width="0.9"/><text x="616.2" y="505.7" font-size="16.5" fill="#1b1b1b" stroke="#1b1b1b" stroke-width="0.25" text-anchor="start">Autophagy Killing</text></svg></body></html>
